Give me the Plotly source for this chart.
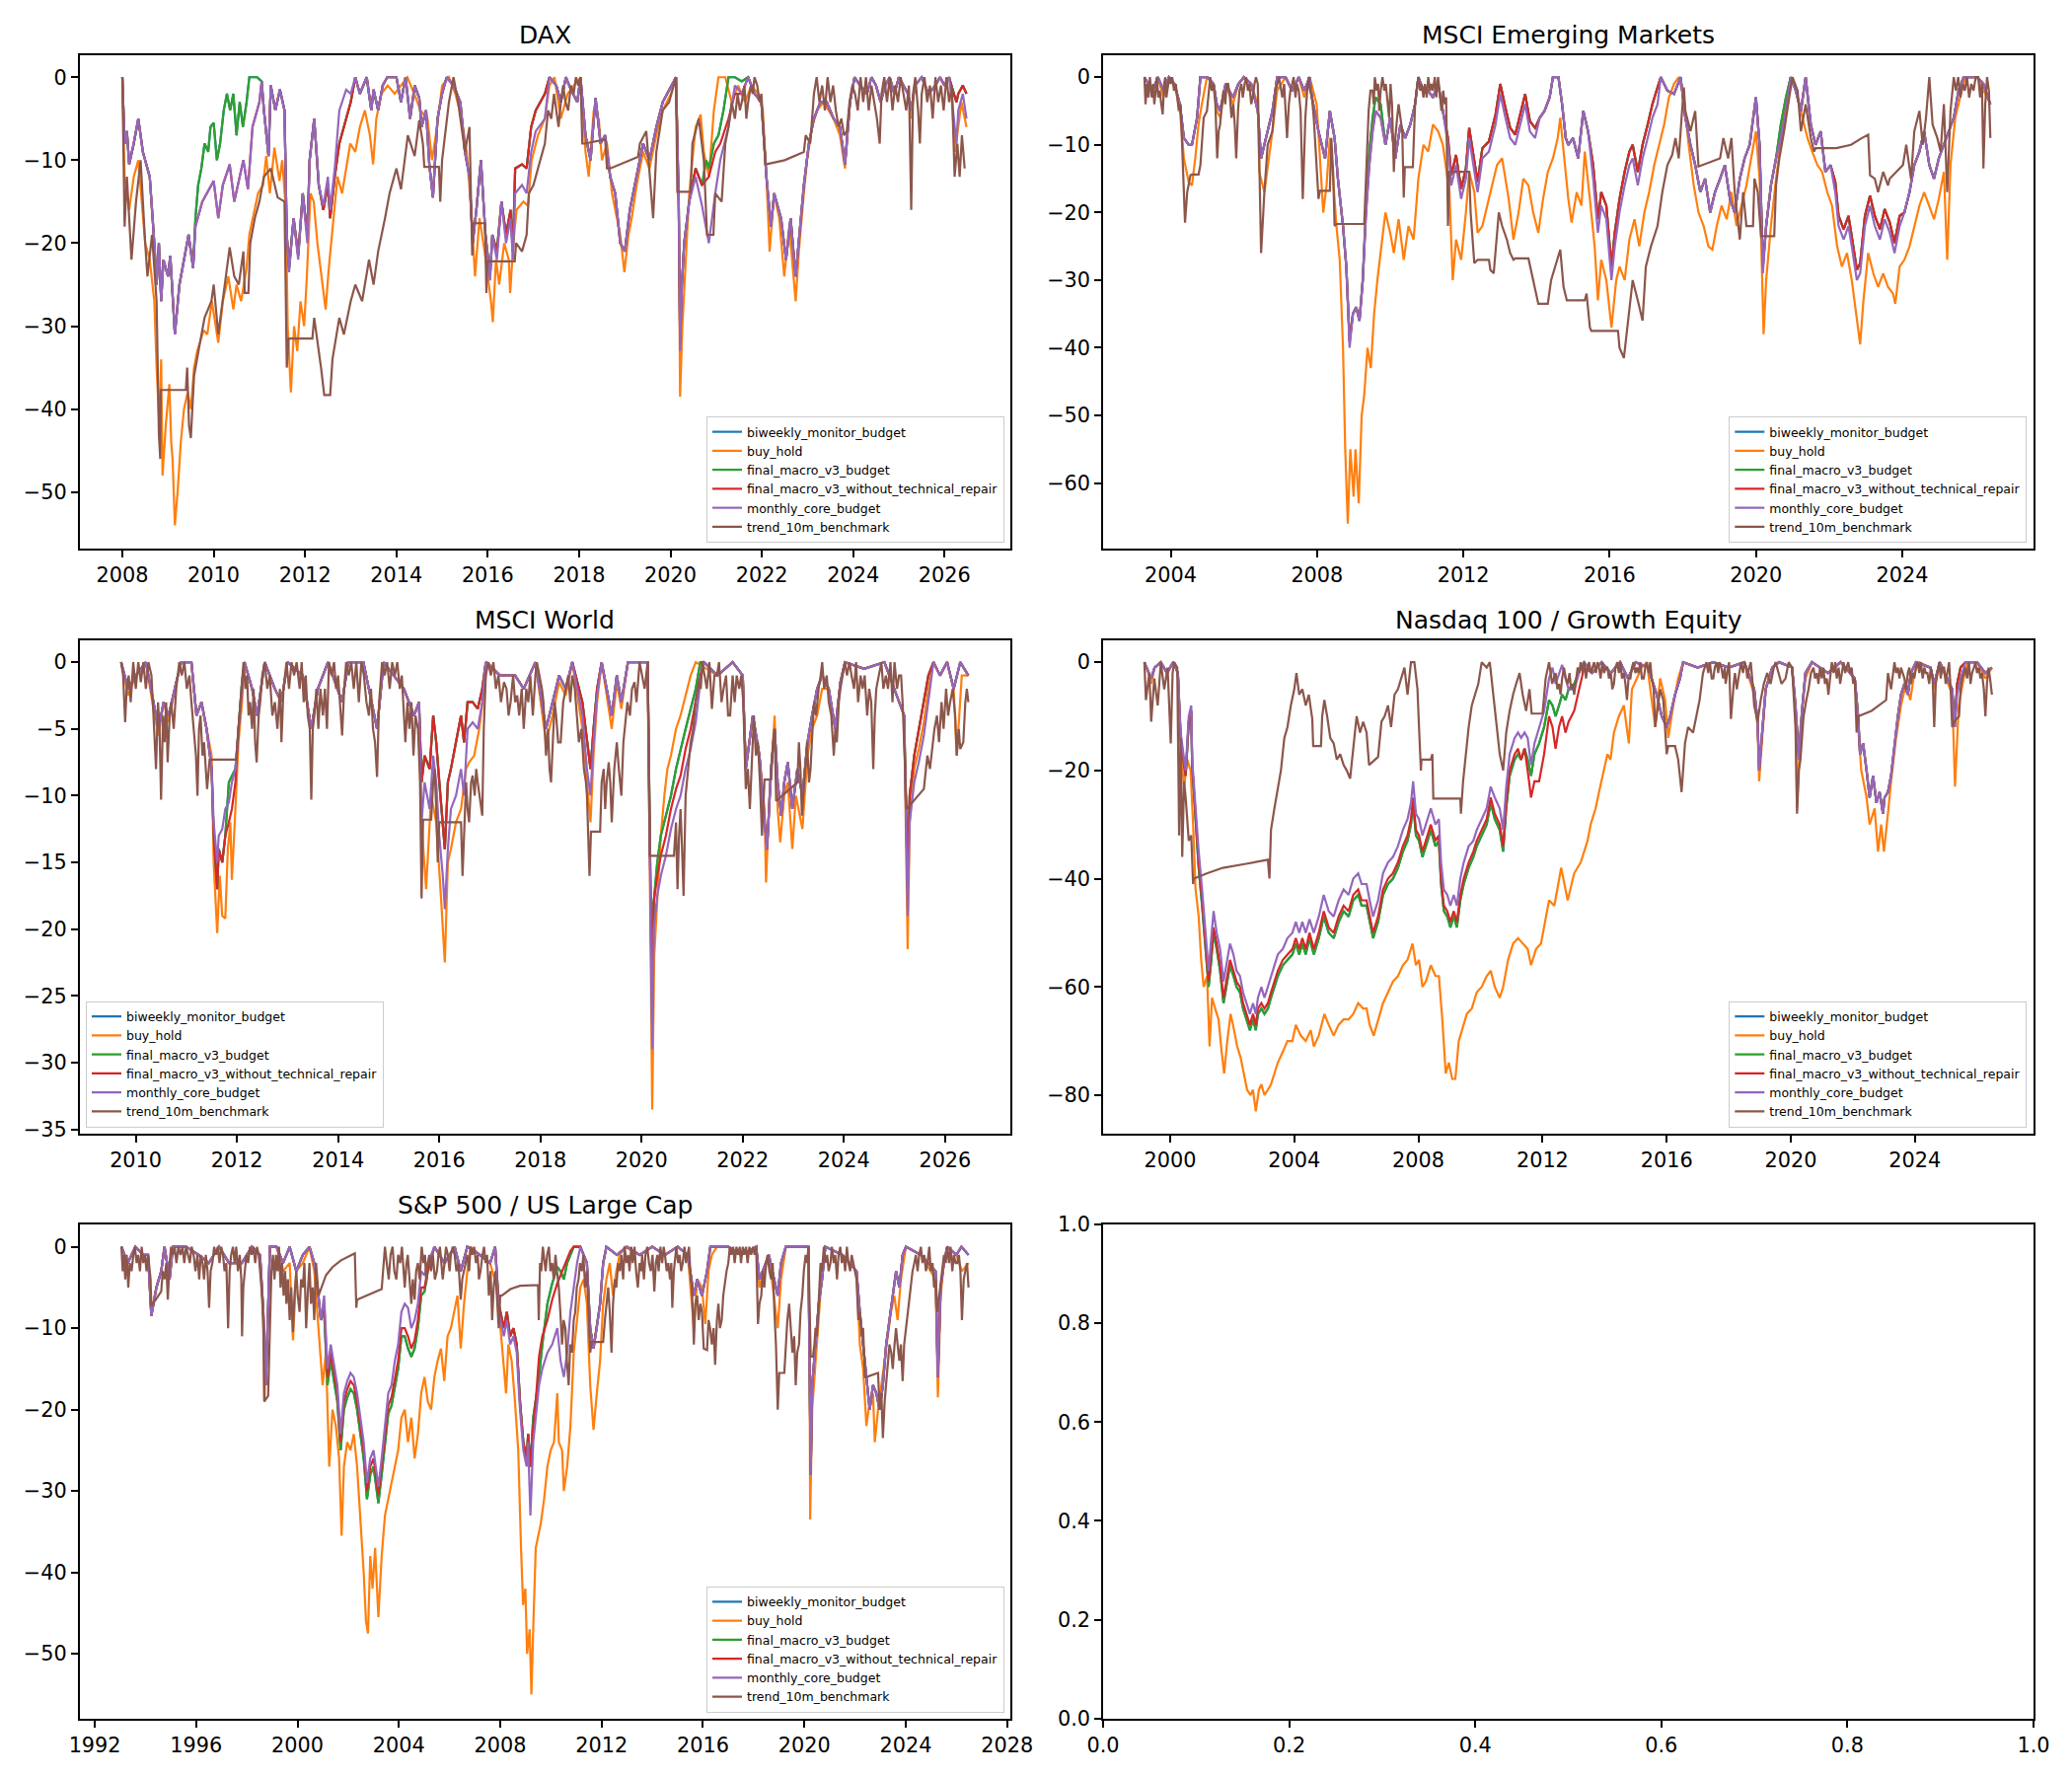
import plotly.graph_objects as go

# ---------------- series names / colours ----------------
SERIES = ["biweekly_monitor_budget", "buy_hold", "final_macro_v3_budget",
          "final_macro_v3_without_technical_repair", "monthly_core_budget", "trend_10m_benchmark"]
COLORS = ["#1f77b4", "#ff7f0e", "#2ca02c", "#d62728", "#9467bd", "#8c564b"]

# ======================= DAX =======================
DAX_TREND = [(2008.00,0),(2008.05,-18),(2008.10,-12),(2008.20,-22),(2008.30,-15),(2008.40,-10),(2008.50,-20),(2008.55,-24),(2008.65,-19),(2008.75,-27),(2008.80,-43),(2008.83,-46),(2008.84,-37.7),(2009.39,-37.7),(2009.42,-35),(2009.46,-42),(2009.50,-43.5),(2009.57,-36),(2009.70,-32),(2009.80,-29),(2009.95,-27),(2010.00,-25),(2010.10,-31),(2010.25,-25),(2010.35,-20.5),(2010.45,-24),(2010.55,-25),(2010.65,-21),(2010.68,-26),(2010.76,-26),(2010.80,-20),(2010.90,-17),(2011.00,-15),(2011.10,-12),(2011.25,-11),(2011.40,-14.5),(2011.55,-15),(2011.60,-35),(2011.64,-31.5),(2012.16,-31.5),(2012.20,-29),(2012.35,-35),(2012.42,-38.3),(2012.55,-38.3),(2012.60,-34),(2012.75,-29),(2012.85,-31),(2013.00,-27),(2013.10,-25),(2013.25,-27),(2013.40,-22),(2013.50,-25),(2013.60,-21),(2013.75,-17),(2013.85,-14),(2014.00,-11),(2014.10,-13.5),(2014.25,-7),(2014.40,-9.5),(2014.50,-5.2),(2014.58,-8),(2014.61,-10.8),(2014.93,-10.8),(2014.96,-15),(2015.00,-10),(2015.15,-3),(2015.25,0),(2015.35,-3),(2015.50,-9),(2015.60,-6),(2015.66,-21.5),(2015.68,-17.6),(2015.94,-17.6),(2015.97,-26),(2015.99,-22.2),(2016.59,-22.2),(2016.62,-20),(2016.75,-21),(2016.85,-19),(2016.90,-14),(2017.00,-13),(2017.15,-10),(2017.25,-8),(2017.32,-4),(2017.39,-5),(2017.45,-2),(2017.50,-4),(2017.55,-6),(2017.60,-3),(2017.65,-1),(2017.70,-3),(2017.76,-4),(2017.82,-1),(2017.88,-2),(2017.93,0),(2017.98,-1),(2018.03,0),(2018.07,-8),(2018.12,-8),(2018.57,-7.5),(2018.61,-11),(2018.68,-11),(2019.29,-9.6),(2019.33,-8),(2019.47,-6.5),(2019.55,-12),(2019.62,-17),(2019.69,-9),(2019.83,-4),(2019.97,-3),(2020.12,0),(2020.15,-13.8),(2020.44,-13.8),(2020.48,-8),(2020.62,-5),(2020.73,-10),(2020.80,-19),(2020.94,-19),(2020.98,-14),(2021.12,-15),(2021.20,-8),(2021.27,-6),(2021.34,-3),(2021.41,-5),(2021.47,-2),(2021.52,-4),(2021.56,-3),(2021.62,-1),(2021.66,-5),(2021.70,-3),(2021.76,-1),(2021.80,-2),(2021.84,0),(2021.90,-1),(2021.95,-3),(2021.99,-2),(2022.08,-10.5),(2022.50,-10),(2022.92,-9),(2022.96,-7),(2023.06,-8),(2023.14,-2),(2023.20,0),(2023.26,-3),(2023.32,-1),(2023.38,-4),(2023.44,0),(2023.50,-3),(2023.56,-1),(2023.62,-4),(2023.68,-6),(2023.74,-5),(2023.80,-7),(2023.86,-6.5),(2023.92,-3),(2023.98,-1),(2024.04,-2),(2024.10,-4),(2024.16,0),(2024.22,-3),(2024.28,0),(2024.34,-4),(2024.40,-1),(2024.46,-3),(2024.52,-5),(2024.58,-8),(2024.62,-2),(2024.68,0),(2024.74,-3),(2024.80,0),(2024.86,-4),(2024.92,-1),(2024.98,-3),(2025.04,0),(2025.10,-2),(2025.16,-4),(2025.22,-1),(2025.27,-16),(2025.31,-2),(2025.36,0),(2025.42,-4),(2025.46,-8),(2025.50,-2),(2025.56,0),(2025.62,-3),(2025.68,-1),(2025.74,-5),(2025.80,0),(2025.86,-3),(2025.92,-1),(2025.98,-4),(2026.04,0),(2026.10,-3),(2026.16,-1),(2026.22,-12),(2026.28,-8),(2026.33,-12),(2026.38,-7),(2026.44,-11)]
DAX_CORE = [(2008.00,0),(2008.05,-8),(2008.10,-6.5),(2008.15,-10.5),(2008.25,-8),(2008.35,-5),(2008.45,-9),(2008.50,-10),(2008.60,-12),(2008.70,-20),(2008.75,-25),(2008.80,-20),(2008.85,-27),(2008.90,-22),(2009.00,-24),(2009.05,-21.5),(2009.15,-31),(2009.25,-25),(2009.35,-22),(2009.45,-19),(2009.55,-23),(2009.60,-18),(2009.75,-15),(2009.85,-14),(2010.00,-12.5),(2010.10,-17),(2010.20,-13),(2010.35,-10.5),(2010.45,-15),(2010.55,-12.5),(2010.65,-10),(2010.75,-13.5),(2010.85,-6),(2011.00,-3),(2011.05,-0.5),(2011.10,-4),(2011.20,-9.5),(2011.25,-1),(2011.35,-4),(2011.45,-1.5),(2011.55,-4),(2011.60,-19),(2011.65,-23.5),(2011.75,-17),(2011.85,-22),(2011.95,-14),(2012.05,-20),(2012.10,-10),(2012.20,-5),(2012.25,-9),(2012.30,-13),(2012.40,-15.5),(2012.50,-12),(2012.55,-16),(2012.65,-11),(2012.75,-4),(2012.90,-1.5),(2013.00,-2),(2013.10,0),(2013.20,-2),(2013.35,0),(2013.45,-4),(2013.50,-1.5),(2013.60,-4),(2013.70,-1),(2013.80,0),(2014.00,0),(2014.10,-3),(2014.20,0),(2014.30,-5),(2014.40,-1),(2014.50,-2.5),(2014.55,-6),(2014.65,-4),(2014.72,-10.5),(2014.80,-14.5),(2014.90,-5),(2015.00,-2),(2015.10,0),(2015.25,-1),(2015.40,-3),(2015.50,-9),(2015.60,-12),(2015.67,-20),(2015.75,-16),(2015.85,-10),(2015.95,-19),(2016.05,-24.5),(2016.10,-19),(2016.20,-22),(2016.30,-15),(2016.40,-20),(2016.50,-17),(2016.55,-22),(2016.60,-14),(2016.75,-13),(2016.85,-14),(2016.95,-9),(2017.05,-6.5),(2017.25,-5),(2017.35,0),(2017.50,-1),(2017.60,-3),(2017.71,0),(2017.82,-1.5),(2017.96,-3),(2018.03,0),(2018.14,-7),(2018.25,-10),(2018.36,-2.5),(2018.47,-8),(2018.57,-7),(2018.68,-12),(2018.79,-14),(2018.90,-20),(2019.00,-21),(2019.11,-16),(2019.26,-12),(2019.40,-8),(2019.54,-10),(2019.69,-6),(2019.83,-3),(2019.97,-1.5),(2020.12,0),(2020.18,-15),(2020.21,-33),(2020.25,-25),(2020.30,-20),(2020.41,-15),(2020.55,-12),(2020.69,-15.5),(2020.84,-20),(2020.98,-14),(2021.09,-10),(2021.27,-6),(2021.41,-1),(2021.56,-2),(2021.70,0),(2021.84,-2),(2021.99,-3),(2022.10,-12),(2022.20,-18),(2022.27,-14),(2022.42,-17),(2022.53,-22),(2022.63,-17),(2022.74,-24),(2022.81,-20),(2022.92,-13),(2023.03,-8),(2023.14,-5),(2023.28,-3),(2023.42,-3),(2023.57,-5),(2023.71,-6),(2023.82,-10.5),(2023.93,-3),(2024.03,0),(2024.15,-1),(2024.30,-2),(2024.40,0),(2024.50,-1),(2024.60,-3),(2024.70,-1),(2024.80,0),(2024.90,-2),(2025.00,0),(2025.10,-1),(2025.20,-2),(2025.27,-4),(2025.35,-1),(2025.50,0),(2025.65,-2),(2025.80,-1),(2025.90,0),(2026.00,-1),(2026.10,0),(2026.15,-2),(2026.26,-8),(2026.30,-4),(2026.40,-2),(2026.48,-5)]
DAX_MACRO_NO_TECH = [(2008.00,0),(2008.05,-8),(2008.10,-6.5),(2008.15,-10.5),(2008.25,-8),(2008.35,-5),(2008.45,-9),(2008.50,-10),(2008.60,-12),(2008.70,-20),(2008.75,-25),(2008.80,-20),(2008.85,-27),(2008.90,-22),(2009.00,-24),(2009.05,-21.5),(2009.15,-31),(2009.25,-25),(2009.35,-22),(2009.45,-19),(2009.55,-23),(2009.60,-18),(2009.75,-15),(2009.85,-14),(2010.00,-12.5),(2010.10,-17),(2010.20,-13),(2010.35,-10.5),(2010.45,-15),(2010.55,-12.5),(2010.65,-10),(2010.75,-13.5),(2010.85,-6),(2011.00,-3),(2011.05,-0.5),(2011.10,-4),(2011.20,-9.5),(2011.25,-1),(2011.35,-4),(2011.45,-1.5),(2011.55,-4),(2011.60,-19),(2011.65,-23),(2011.75,-17),(2011.85,-21.5),(2011.95,-14),(2012.05,-19),(2012.10,-10),(2012.20,-5),(2012.25,-9),(2012.30,-13),(2012.40,-16),(2012.50,-13),(2012.55,-17),(2012.65,-12),(2012.75,-8),(2012.90,-5),(2013.00,-3),(2013.10,0),(2013.20,-2),(2013.35,0),(2013.45,-4),(2013.50,-1.5),(2013.60,-4),(2013.70,-1),(2013.80,0),(2014.00,0),(2014.10,-3),(2014.20,0),(2014.30,-5),(2014.40,-1),(2014.50,-2.5),(2014.55,-6),(2014.65,-4),(2014.72,-10.5),(2014.80,-14.5),(2014.90,-5),(2015.00,-2),(2015.10,0),(2015.25,-1),(2015.40,-3),(2015.50,-9),(2015.60,-12),(2015.67,-20),(2015.75,-16),(2015.85,-10),(2015.95,-19),(2016.05,-24),(2016.10,-19),(2016.20,-21),(2016.30,-15),(2016.40,-19),(2016.50,-16),(2016.55,-21),(2016.60,-11),(2016.75,-10.5),(2016.85,-11),(2016.95,-6),(2017.05,-4),(2017.25,-2),(2017.35,0),(2017.50,-1),(2017.60,-3),(2017.71,0),(2017.82,-1.5),(2017.96,-3),(2018.03,0),(2018.14,-7),(2018.25,-10),(2018.36,-2.5),(2018.47,-8),(2018.57,-7),(2018.68,-12),(2018.79,-14),(2018.90,-20),(2019.00,-21),(2019.11,-16),(2019.26,-12),(2019.40,-8),(2019.54,-10),(2019.69,-6),(2019.83,-3),(2019.97,-1.5),(2020.12,0),(2020.18,-15),(2020.21,-32),(2020.25,-25),(2020.30,-20),(2020.41,-15),(2020.55,-11),(2020.69,-13),(2020.84,-12),(2020.98,-9),(2021.09,-8),(2021.27,-5),(2021.41,-2),(2021.56,-2),(2021.70,0),(2021.84,-2),(2021.99,-3),(2022.10,-12),(2022.20,-18),(2022.27,-14),(2022.42,-17),(2022.53,-22),(2022.63,-17),(2022.74,-24),(2022.81,-20),(2022.92,-13),(2023.03,-8),(2023.14,-5),(2023.28,-3),(2023.42,-3),(2023.57,-5),(2023.71,-6),(2023.82,-10.5),(2023.93,-3),(2024.03,0),(2024.15,-1),(2024.30,-2),(2024.40,0),(2024.50,-1),(2024.60,-3),(2024.70,-1),(2024.80,0),(2024.90,-2),(2025.00,0),(2025.10,-1),(2025.20,-2),(2025.27,-4),(2025.35,-1),(2025.50,0),(2025.65,-2),(2025.80,-1),(2025.90,0),(2026.00,-1),(2026.10,0),(2026.15,-1),(2026.26,-3),(2026.30,-2),(2026.40,-1),(2026.48,-2)]
DAX_MACRO = [(2008.00,0),(2008.05,-8),(2008.10,-6.5),(2008.15,-10.5),(2008.25,-8),(2008.35,-5),(2008.45,-9),(2008.50,-10),(2008.60,-12),(2008.70,-20),(2008.75,-25),(2008.80,-20),(2008.85,-27),(2008.90,-22),(2009.00,-24),(2009.05,-21.5),(2009.15,-31),(2009.25,-25),(2009.35,-22),(2009.45,-19),(2009.55,-23),(2009.60,-17),(2009.66,-13),(2009.73,-11),(2009.80,-8),(2009.88,-9),(2009.93,-6),(2010.00,-5.5),(2010.07,-10),(2010.14,-8),(2010.22,-4),(2010.29,-2),(2010.36,-4),(2010.43,-2),(2010.50,-7),(2010.57,-3),(2010.64,-6),(2010.72,-3),(2010.78,0),(2010.95,0),(2011.05,-0.5),(2011.10,-4),(2011.20,-9.5),(2011.25,-1),(2011.35,-4),(2011.45,-1.5),(2011.55,-4),(2011.60,-19),(2011.65,-23),(2011.75,-17),(2011.85,-21.5),(2011.95,-14),(2012.05,-19),(2012.10,-10),(2012.20,-5),(2012.25,-9),(2012.30,-13),(2012.40,-16),(2012.50,-13),(2012.55,-17),(2012.65,-12),(2012.75,-8),(2012.90,-5),(2013.00,-3),(2013.10,0),(2013.20,-2),(2013.35,0),(2013.45,-4),(2013.50,-1.5),(2013.60,-4),(2013.70,-1),(2013.80,0),(2014.00,0),(2014.10,-3),(2014.20,0),(2014.30,-5),(2014.40,-1),(2014.50,-2.5),(2014.55,-6),(2014.65,-4),(2014.72,-10.5),(2014.80,-14.5),(2014.90,-5),(2015.00,-2),(2015.10,0),(2015.25,-1),(2015.40,-3),(2015.50,-9),(2015.60,-12),(2015.67,-20),(2015.75,-16),(2015.85,-10),(2015.95,-19),(2016.05,-24),(2016.10,-19),(2016.20,-21),(2016.30,-15),(2016.40,-19),(2016.50,-16),(2016.55,-21),(2016.60,-11),(2016.75,-10.5),(2016.85,-11),(2016.95,-6),(2017.05,-4),(2017.25,-2),(2017.35,0),(2017.50,-1),(2017.60,-3),(2017.71,0),(2017.82,-1.5),(2017.96,-3),(2018.03,0),(2018.14,-7),(2018.25,-10),(2018.36,-2.5),(2018.47,-8),(2018.57,-7),(2018.68,-12),(2018.79,-14),(2018.90,-20),(2019.00,-21),(2019.11,-16),(2019.26,-12),(2019.40,-8),(2019.54,-10),(2019.69,-6),(2019.83,-3),(2019.97,-1.5),(2020.12,0),(2020.18,-15),(2020.21,-32),(2020.25,-25),(2020.30,-20),(2020.41,-15),(2020.55,-11),(2020.69,-13),(2020.78,-10),(2020.84,-11),(2020.95,-8),(2021.05,-7),(2021.16,-4),(2021.27,0),(2021.41,0),(2021.56,-0.5),(2021.70,0),(2021.84,-2),(2021.99,-3),(2022.10,-12),(2022.20,-18),(2022.27,-14),(2022.42,-17),(2022.53,-22),(2022.63,-17),(2022.74,-24),(2022.81,-20),(2022.92,-13),(2023.03,-8),(2023.14,-5),(2023.28,-3),(2023.42,-3),(2023.57,-5),(2023.71,-6),(2023.82,-10.5),(2023.93,-3),(2024.03,0),(2024.15,-1),(2024.30,-2),(2024.40,0),(2024.50,-1),(2024.60,-3),(2024.70,-1),(2024.80,0),(2024.90,-2),(2025.00,0),(2025.10,-1),(2025.20,-2),(2025.27,-4),(2025.35,-1),(2025.50,0),(2025.65,-2),(2025.80,-1),(2025.90,0),(2026.00,-1),(2026.10,0),(2026.15,-1),(2026.26,-3),(2026.30,-2),(2026.40,-1),(2026.48,-2)]
DAX_BUY_HOLD = [(2008.00,0),(2008.05,-12),(2008.15,-16),(2008.25,-12),(2008.35,-10),(2008.45,-17),(2008.50,-20),(2008.60,-22),(2008.70,-27),(2008.75,-35),(2008.81,-42),(2008.85,-34),(2008.88,-48),(2008.95,-42),(2009.03,-37),(2009.07,-44),(2009.10,-46),(2009.15,-54),(2009.21,-50),(2009.28,-44),(2009.35,-40),(2009.43,-38),(2009.50,-40),(2009.57,-35),(2009.64,-33),(2009.78,-30.5),(2009.86,-31),(2009.96,-27),(2010.10,-32),(2010.20,-27),(2010.32,-24),(2010.43,-28),(2010.50,-25),(2010.60,-27),(2010.72,-23),(2010.78,-19),(2010.90,-16),(2010.97,-14),(2011.08,-13),(2011.15,-9.5),(2011.23,-14),(2011.33,-8.5),(2011.44,-12.5),(2011.50,-10),(2011.58,-16),(2011.62,-30),(2011.69,-38),(2011.76,-30),(2011.83,-33),(2011.90,-27),(2011.98,-30),(2012.04,-24),(2012.12,-14),(2012.19,-15),(2012.27,-20),(2012.34,-23),(2012.45,-28),(2012.52,-23),(2012.63,-17),(2012.71,-12),(2012.81,-14),(2012.92,-10),(2012.99,-8),(2013.10,-9),(2013.20,-6),(2013.31,-4),(2013.42,-7),(2013.49,-10.5),(2013.56,-5),(2013.67,-2),(2013.81,-1),(2013.96,-2),(2014.10,-1),(2014.24,0),(2014.39,-2),(2014.53,-4),(2014.68,-5),(2014.78,-10),(2014.89,-6),(2015.00,-1),(2015.15,0),(2015.29,-2),(2015.43,-5),(2015.54,-9),(2015.65,-17),(2015.72,-24),(2015.82,-17),(2015.93,-21),(2016.07,-27),(2016.11,-29.5),(2016.18,-22),(2016.25,-25),(2016.36,-20),(2016.46,-22),(2016.49,-26),(2016.56,-20),(2016.63,-16),(2016.78,-15),(2016.88,-15.5),(2016.96,-10),(2017.10,-7),(2017.25,-5),(2017.35,-1),(2017.46,0),(2017.60,-5),(2017.75,-2),(2017.89,-1),(2018.03,0),(2018.14,-9),(2018.21,-12),(2018.32,-4),(2018.43,-5),(2018.50,-10),(2018.61,-8),(2018.72,-14),(2018.83,-17),(2018.90,-19),(2018.99,-23.5),(2019.08,-19),(2019.15,-17),(2019.26,-13),(2019.40,-9),(2019.54,-11),(2019.69,-7),(2019.83,-4),(2020.01,-2),(2020.12,0),(2020.18,-16),(2020.21,-38.5),(2020.26,-30),(2020.33,-22),(2020.41,-14),(2020.48,-10),(2020.55,-6),(2020.66,-4.5),(2020.73,-9),(2020.84,-12),(2020.95,-4),(2021.05,0),(2021.20,0),(2021.34,-3),(2021.48,-1),(2021.63,-3),(2021.77,-1),(2021.92,-2),(2022.02,-4),(2022.10,-12),(2022.17,-21),(2022.27,-14),(2022.38,-17),(2022.49,-24),(2022.60,-18),(2022.74,-27),(2022.81,-21),(2022.92,-14),(2022.99,-10),(2023.10,-6),(2023.21,-4),(2023.35,-3),(2023.57,-5),(2023.71,-7),(2023.82,-11),(2023.93,-3),(2024.03,0),(2024.15,-1),(2024.30,-2),(2024.40,0),(2024.50,-1),(2024.60,-3),(2024.70,-1),(2024.80,0),(2024.90,-2),(2025.00,0),(2025.10,-1),(2025.20,-2),(2025.27,-5),(2025.35,-1),(2025.50,0),(2025.65,-2),(2025.80,-1),(2025.90,0),(2026.00,-1),(2026.10,0),(2026.15,-2),(2026.23,-9),(2026.37,-3),(2026.48,-6)]

# ======================= MSCI EM =======================
EM_TREND = [(2003.28,0),(2003.31,-4),(2003.35,-1),(2003.39,-3),(2003.43,0),(2003.48,-3),(2003.52,-1),(2003.55,-4),(2003.59,-2),(2003.62,0),(2003.66,-3),(2003.70,-2),(2003.74,-4),(2003.78,-5.5),(2003.82,-1),(2003.85,0),(2003.88,-3),(2003.91,-2),(2003.96,0),(2004.00,-1),(2004.04,0),(2004.09,-2),(2004.14,-1),(2004.18,-3),(2004.22,-5),(2004.27,-4),(2004.31,-10),(2004.39,-21.5),(2004.45,-17),(2004.54,-14.5),(2004.58,-14.4),(2004.76,-14.4),(2004.81,-13),(2004.90,-6),(2004.99,-5),(2005.04,-2),(2005.08,0),(2005.12,-2),(2005.17,-1),(2005.22,-4),(2005.27,-12),(2005.31,-8),(2005.35,-7),(2005.40,-4),(2005.44,-2),(2005.49,-4),(2005.53,-1),(2005.57,-1),(2005.62,-3),(2005.66,-6),(2005.71,-4),(2005.75,-7),(2005.79,-12),(2005.84,-5),(2005.88,-2),(2005.93,-1),(2005.97,-3),(2006.02,-1),(2006.06,0),(2006.11,-2),(2006.15,-1),(2006.20,-4),(2006.24,-3),(2006.29,-1),(2006.33,0),(2006.38,-1),(2006.42,-13),(2006.47,-26),(2006.56,-17),(2006.65,-10),(2006.78,-8),(2006.87,-2),(2006.96,0),(2007.01,-2),(2007.05,-3),(2007.10,-1),(2007.14,-5),(2007.18,-9),(2007.23,-4),(2007.27,-2),(2007.32,-1),(2007.36,0),(2007.41,-3),(2007.45,-1),(2007.50,-2),(2007.55,-5),(2007.61,-18),(2007.65,-9),(2007.68,-6),(2007.73,-2),(2007.77,0),(2007.81,-2),(2007.86,-3),(2007.91,-6),(2007.95,-10),(2008.04,-18),(2008.08,-16.8),(2008.35,-16.8),(2008.39,-9),(2008.44,-14),(2008.48,-22),(2008.53,-21.7),(2009.29,-21.7),(2009.34,-14),(2009.41,-5),(2009.46,-2),(2009.52,-2),(2009.55,-4),(2009.58,0),(2009.63,-2),(2009.67,-1),(2009.70,-5),(2009.74,-2),(2009.79,0),(2009.84,-2),(2009.88,-1),(2009.92,-3),(2009.97,-6),(2010.01,-1),(2010.05,-4),(2010.10,-14),(2010.14,-9),(2010.19,-6),(2010.23,-4),(2010.28,-6),(2010.33,-8),(2010.37,-17.8),(2010.40,-13.3),(2010.62,-13.3),(2010.68,-4),(2010.72,-2),(2010.77,0),(2010.82,-2),(2010.86,-1),(2010.91,-3),(2010.95,-1),(2011.00,-3),(2011.04,0),(2011.09,-2),(2011.13,-1),(2011.17,-2),(2011.22,0),(2011.26,-3),(2011.31,0),(2011.35,-2),(2011.40,-5),(2011.45,-2),(2011.49,-4),(2011.53,-3),(2011.58,-22),(2011.62,-14),(2012.16,-14),(2012.20,-20),(2012.30,-27.5),(2012.39,-27),(2012.70,-27),(2012.74,-28.5),(2012.83,-29),(2012.97,-20),(2013.06,-22),(2013.19,-24),(2013.28,-26),(2013.37,-27),(2013.42,-26.8),(2013.78,-26.8),(2013.87,-29),(2013.96,-31),(2014.05,-33.5),(2014.31,-33.5),(2014.40,-30),(2014.51,-28),(2014.65,-25.5),(2014.74,-31),(2014.83,-33),(2015.32,-33),(2015.37,-32),(2015.46,-37),(2015.50,-37.5),(2016.23,-37.5),(2016.27,-40),(2016.39,-41.5),(2016.50,-36),(2016.63,-30),(2016.77,-33),(2016.90,-36),(2016.99,-28),(2017.13,-25),(2017.31,-22),(2017.44,-17),(2017.58,-13),(2017.71,-11.5),(2017.80,-9),(2017.89,-12),(2017.98,-5),(2018.03,-1.5),(2018.07,-5),(2018.21,-8),(2018.34,-5),(2018.40,-12),(2018.43,-13.2),(2019.02,-12),(2019.11,-9),(2019.24,-12),(2019.33,-9),(2019.42,-17),(2019.56,-24),(2019.65,-17),(2019.74,-22),(2019.92,-22),(2019.96,-15),(2020.05,-17),(2020.14,-23.5),(2020.50,-23.5),(2020.55,-16),(2020.64,-12),(2020.77,-8),(2020.91,-3),(2021.00,0),(2021.14,-2),(2021.23,-8),(2021.36,-4),(2021.50,-9),(2021.59,-11),(2021.63,-10.5),(2022.20,-10.5),(2022.60,-10),(2022.90,-9),(2023.07,-8.5),(2023.12,-14.5),(2023.25,-15),(2023.34,-17),(2023.48,-14),(2023.61,-16),(2023.66,-15),(2024.02,-13),(2024.11,-10),(2024.24,-15),(2024.33,-8),(2024.47,-5),(2024.56,-10),(2024.65,-6),(2024.74,0),(2024.83,-7),(2024.96,-9),(2025.05,-11),(2025.14,-4),(2025.23,-17),(2025.32,-5),(2025.41,0),(2025.47,-2),(2025.53,0),(2025.59,-3),(2025.65,-1),(2025.71,-2),(2025.77,0),(2025.83,-3),(2025.89,-1),(2025.95,-2),(2026.01,0),(2026.08,0),(2026.13,-3),(2026.18,-1),(2026.22,-13.5),(2026.27,-4),(2026.32,0),(2026.37,-2),(2026.41,-9)]
EM_CORE = [(2003.28,0),(2003.50,-2),(2003.65,0),(2003.80,-2),(2003.95,0),(2004.10,-1),(2004.25,-4),(2004.36,-9),(2004.49,-10),(2004.58,-10),(2004.72,-6),(2004.81,0),(2005.00,0),(2005.17,-1),(2005.26,-4),(2005.35,-5),(2005.50,-1),(2005.70,-3),(2005.85,-1),(2006.00,0),(2006.20,-1),(2006.38,-5),(2006.47,-12),(2006.60,-9),(2006.78,-5),(2006.91,0),(2007.14,0),(2007.32,-2),(2007.50,0),(2007.65,-2),(2007.80,0),(2007.86,-3),(2008.04,-8),(2008.22,-12),(2008.35,-5),(2008.48,-9),(2008.57,-15),(2008.71,-22),(2008.80,-28),(2008.89,-40),(2008.98,-35),(2009.07,-34),(2009.16,-36),(2009.25,-30),(2009.34,-20),(2009.43,-13),(2009.52,-8),(2009.60,-5),(2009.74,-6),(2009.87,-10),(2010.00,-6),(2010.14,-12),(2010.28,-7),(2010.41,-9),(2010.55,-7),(2010.68,-4),(2010.77,0),(2010.91,-2),(2011.04,-2),(2011.17,-3),(2011.31,-1),(2011.44,-5),(2011.58,-10),(2011.67,-16),(2011.80,-13),(2011.94,-18),(2012.07,-15),(2012.16,-9),(2012.30,-14),(2012.39,-17),(2012.52,-12),(2012.70,-11),(2012.88,-7),(2013.01,-2.5),(2013.15,-6),(2013.28,-9),(2013.42,-10),(2013.55,-7),(2013.69,-4),(2013.82,-8),(2013.96,-9),(2014.09,-6),(2014.22,-5),(2014.36,-3),(2014.45,0),(2014.60,0),(2014.70,-4),(2014.80,-9),(2014.87,-10),(2015.00,-9),(2015.14,-12),(2015.28,-5),(2015.41,-8),(2015.55,-15),(2015.68,-23),(2015.77,-19),(2015.91,-21),(2016.05,-30),(2016.14,-25),(2016.27,-20),(2016.41,-16),(2016.54,-13),(2016.63,-12),(2016.77,-16),(2016.90,-12),(2017.04,-9),(2017.17,-6),(2017.31,-4),(2017.40,0),(2017.58,-2),(2017.76,-2.5),(2017.94,0),(2018.07,-6),(2018.21,-10),(2018.34,-13),(2018.48,-17),(2018.61,-15),(2018.75,-20),(2018.88,-17),(2019.02,-15),(2019.15,-13),(2019.29,-18),(2019.42,-20),(2019.56,-15),(2019.69,-12),(2019.83,-10),(2019.92,-6),(2020.00,-3),(2020.10,-10),(2020.19,-29),(2020.28,-22),(2020.41,-16),(2020.55,-12),(2020.68,-9),(2020.82,-5),(2020.95,0),(2021.09,-2),(2021.23,-5),(2021.36,0),(2021.50,-7),(2021.63,-10),(2021.77,-8),(2021.90,-14),(2022.04,-13),(2022.17,-17),(2022.26,-22),(2022.40,-24),(2022.53,-22),(2022.62,-25),(2022.76,-30),(2022.85,-29),(2022.98,-22),(2023.12,-19),(2023.25,-22),(2023.39,-24),(2023.52,-21),(2023.66,-23),(2023.79,-26),(2023.93,-22),(2024.06,-20),(2024.20,-17),(2024.33,-13),(2024.47,-11),(2024.60,-8),(2024.74,-13),(2024.87,-15),(2025.00,-12),(2025.14,-10),(2025.27,-8),(2025.41,-6),(2025.54,-2),(2025.68,0),(2025.86,0),(2026.05,0),(2026.22,-1),(2026.41,-4)]
EM_MACRO_NO_TECH = [(2003.28,0),(2003.50,-2),(2003.65,0),(2003.80,-2),(2003.95,0),(2004.10,-1),(2004.25,-4),(2004.36,-9),(2004.49,-10),(2004.58,-10),(2004.72,-6),(2004.81,0),(2005.00,0),(2005.17,-1),(2005.26,-4),(2005.35,-5),(2005.50,-1),(2005.70,-3),(2005.85,-1),(2006.00,0),(2006.20,-1),(2006.38,-5),(2006.47,-12),(2006.60,-9),(2006.78,-5),(2006.91,0),(2007.14,0),(2007.32,-2),(2007.50,0),(2007.65,-2),(2007.80,0),(2007.86,-3),(2008.04,-8),(2008.22,-12),(2008.35,-5),(2008.48,-9),(2008.57,-15),(2008.71,-22),(2008.80,-28),(2008.89,-39),(2008.98,-35),(2009.07,-34),(2009.16,-36),(2009.25,-30),(2009.34,-20),(2009.43,-13),(2009.52,-8),(2009.60,-5),(2009.74,-6),(2009.87,-10),(2010.00,-6),(2010.14,-12),(2010.28,-7),(2010.41,-9),(2010.55,-7),(2010.68,-4),(2010.77,0),(2010.91,-2),(2011.04,-2),(2011.17,-3),(2011.31,-1),(2011.44,-5),(2011.58,-9),(2011.67,-14.5),(2011.80,-11.5),(2011.94,-16.5),(2012.07,-13.5),(2012.16,-7.5),(2012.30,-12.5),(2012.39,-15.5),(2012.52,-10.5),(2012.70,-9.5),(2012.88,-5.5),(2013.01,-1),(2013.15,-4.5),(2013.28,-7.5),(2013.42,-8.5),(2013.55,-5.5),(2013.69,-2.5),(2013.82,-6.5),(2013.96,-7.5),(2014.09,-6),(2014.22,-5),(2014.36,-3),(2014.45,0),(2014.60,0),(2014.70,-4),(2014.80,-9),(2014.87,-10),(2015.00,-9),(2015.14,-12),(2015.28,-5),(2015.41,-8),(2015.55,-13),(2015.68,-21),(2015.77,-17),(2015.91,-19),(2016.05,-28),(2016.14,-23),(2016.27,-18),(2016.41,-14),(2016.54,-11),(2016.63,-10),(2016.77,-14),(2016.90,-10),(2017.04,-7),(2017.17,-4),(2017.31,-1.5),(2017.40,0),(2017.58,-2),(2017.76,-2.5),(2017.94,0),(2018.07,-6),(2018.21,-10),(2018.34,-13),(2018.48,-17),(2018.61,-15),(2018.75,-20),(2018.88,-17),(2019.02,-15),(2019.15,-13),(2019.29,-18),(2019.42,-20),(2019.56,-15),(2019.69,-12),(2019.83,-10),(2019.92,-6),(2020.00,-3),(2020.10,-10),(2020.19,-28),(2020.28,-22),(2020.41,-16),(2020.55,-12),(2020.68,-9),(2020.82,-5),(2020.95,0),(2021.09,-2),(2021.23,-5),(2021.36,0),(2021.50,-7),(2021.63,-10),(2021.77,-8),(2021.90,-14),(2022.04,-13),(2022.17,-15.5),(2022.26,-20.5),(2022.40,-22.5),(2022.53,-20.5),(2022.62,-23.5),(2022.76,-28.5),(2022.85,-27.5),(2022.98,-20.5),(2023.12,-17.5),(2023.25,-20.5),(2023.39,-22.5),(2023.52,-19.5),(2023.66,-21.5),(2023.79,-24.5),(2023.93,-20.5),(2024.06,-20),(2024.20,-17),(2024.33,-13),(2024.47,-11),(2024.60,-8),(2024.74,-13),(2024.87,-15),(2025.00,-12),(2025.14,-10),(2025.27,-8),(2025.41,-6),(2025.54,-2),(2025.68,0),(2025.86,0),(2026.05,0),(2026.22,-1),(2026.41,-4)]
EM_MACRO = [(2003.28,0),(2003.50,-2),(2003.65,0),(2003.80,-2),(2003.95,0),(2004.10,-1),(2004.25,-4),(2004.36,-9),(2004.49,-10),(2004.58,-10),(2004.72,-6),(2004.81,0),(2005.00,0),(2005.17,-1),(2005.26,-4),(2005.35,-5),(2005.50,-1),(2005.70,-3),(2005.85,-1),(2006.00,0),(2006.20,-1),(2006.38,-5),(2006.47,-12),(2006.60,-9),(2006.78,-5),(2006.91,0),(2007.14,0),(2007.32,-2),(2007.50,0),(2007.65,-2),(2007.80,0),(2007.86,-3),(2008.04,-8),(2008.22,-12),(2008.35,-5),(2008.48,-9),(2008.57,-15),(2008.71,-22),(2008.80,-28),(2008.89,-39),(2008.98,-35),(2009.07,-34),(2009.16,-36),(2009.25,-30),(2009.34,-19),(2009.43,-11),(2009.52,-6),(2009.60,-3),(2009.74,-4),(2009.87,-10),(2010.00,-6),(2010.14,-12),(2010.28,-7),(2010.41,-9),(2010.55,-7),(2010.68,-4),(2010.77,0),(2010.91,-2),(2011.04,-2),(2011.17,-3),(2011.31,-1),(2011.44,-5),(2011.58,-9),(2011.67,-14.5),(2011.80,-11.5),(2011.94,-16.5),(2012.07,-13.5),(2012.16,-7.5),(2012.30,-12.5),(2012.39,-15.5),(2012.52,-10.5),(2012.70,-9.5),(2012.88,-5.5),(2013.01,-1),(2013.15,-4.5),(2013.28,-7.5),(2013.42,-8.5),(2013.55,-5.5),(2013.69,-2.5),(2013.82,-6.5),(2013.96,-7.5),(2014.09,-6),(2014.22,-5),(2014.36,-3),(2014.45,0),(2014.60,0),(2014.70,-4),(2014.80,-9),(2014.87,-10),(2015.00,-9),(2015.14,-12),(2015.28,-5),(2015.41,-8),(2015.55,-13),(2015.68,-21),(2015.77,-17),(2015.91,-19),(2016.05,-28),(2016.14,-23),(2016.27,-18),(2016.41,-14),(2016.54,-11),(2016.63,-10),(2016.77,-14),(2016.90,-10),(2017.04,-7),(2017.17,-4),(2017.31,-1.5),(2017.40,0),(2017.58,-2),(2017.76,-2.5),(2017.94,0),(2018.07,-6),(2018.21,-10),(2018.34,-13),(2018.48,-17),(2018.61,-15),(2018.75,-20),(2018.88,-17),(2019.02,-15),(2019.15,-13),(2019.29,-18),(2019.42,-20),(2019.56,-15),(2019.69,-12),(2019.83,-10),(2019.92,-6),(2020.00,-3),(2020.10,-10),(2020.19,-28),(2020.28,-22),(2020.41,-16),(2020.55,-12),(2020.68,-7),(2020.82,-3),(2020.95,0),(2021.09,-2),(2021.23,-5),(2021.36,0),(2021.50,-7),(2021.63,-10),(2021.77,-8),(2021.90,-14),(2022.04,-13),(2022.17,-15.5),(2022.26,-20.5),(2022.40,-22.5),(2022.53,-20.5),(2022.62,-23.5),(2022.76,-28.5),(2022.85,-27.5),(2022.98,-20.5),(2023.12,-17.5),(2023.25,-20.5),(2023.39,-22.5),(2023.52,-19.5),(2023.66,-21.5),(2023.79,-24.5),(2023.93,-20.5),(2024.06,-20),(2024.20,-17),(2024.33,-13),(2024.47,-11),(2024.60,-8),(2024.74,-13),(2024.87,-15),(2025.00,-12),(2025.14,-10),(2025.27,-8),(2025.41,-6),(2025.54,-2),(2025.68,0),(2025.86,0),(2026.05,0),(2026.22,-1),(2026.41,-4)]
EM_BUY_HOLD = [(2003.28,0),(2003.50,-2),(2003.65,0),(2003.80,-3),(2003.95,0),(2004.10,-1),(2004.25,-5),(2004.36,-12),(2004.49,-15.5),(2004.58,-16),(2004.67,-12),(2004.76,-7),(2004.85,-4),(2004.99,0),(2005.17,-1),(2005.26,-5),(2005.35,-6),(2005.50,-1),(2005.70,-4),(2005.85,-1),(2006.00,0),(2006.20,-1),(2006.38,-4),(2006.42,-14),(2006.56,-17),(2006.69,-12),(2006.78,-8),(2006.91,-2),(2007.14,0),(2007.32,-2),(2007.50,0),(2007.65,-3),(2007.80,0),(2007.99,-4),(2008.08,-13),(2008.17,-20),(2008.26,-16),(2008.35,-9),(2008.44,-15),(2008.53,-22),(2008.62,-27),(2008.71,-40),(2008.77,-55),(2008.84,-66),(2008.91,-55),(2009.00,-62),(2009.05,-55),(2009.14,-63),(2009.22,-50),(2009.29,-47),(2009.38,-40),(2009.47,-43),(2009.56,-35),(2009.65,-30),(2009.78,-24),(2009.87,-20),(2010.00,-23),(2010.10,-26),(2010.23,-21),(2010.37,-27),(2010.50,-22),(2010.64,-24),(2010.77,-15),(2010.91,-10),(2011.04,-11),(2011.17,-7),(2011.31,-8),(2011.44,-10),(2011.62,-17),(2011.71,-30),(2011.80,-24),(2011.94,-27),(2012.07,-20),(2012.16,-14),(2012.30,-17),(2012.39,-23),(2012.52,-22),(2012.65,-19),(2012.79,-16),(2012.92,-13),(2013.06,-12),(2013.24,-18),(2013.37,-24),(2013.51,-20),(2013.64,-15),(2013.78,-16),(2013.91,-20),(2014.05,-23),(2014.18,-18),(2014.31,-14),(2014.45,-12),(2014.58,-9),(2014.65,-6),(2014.74,-11),(2014.87,-18),(2014.96,-21.5),(2015.10,-17),(2015.23,-19),(2015.32,-11),(2015.46,-18),(2015.59,-25),(2015.68,-33),(2015.77,-27),(2015.91,-30),(2016.05,-37),(2016.18,-30),(2016.27,-28),(2016.41,-30),(2016.54,-24),(2016.68,-21),(2016.81,-25),(2016.95,-20),(2017.08,-17),(2017.22,-13),(2017.35,-10),(2017.49,-7),(2017.62,-3),(2017.76,-1),(2017.89,0),(2018.03,-3),(2018.16,-10),(2018.30,-16),(2018.43,-20),(2018.57,-22),(2018.70,-25),(2018.81,-25.5),(2018.93,-22),(2019.06,-19),(2019.20,-21),(2019.33,-17),(2019.47,-22),(2019.60,-19),(2019.74,-16),(2019.87,-12),(2020.00,-8),(2020.10,-15),(2020.21,-38),(2020.28,-30),(2020.41,-22),(2020.55,-15),(2020.68,-10),(2020.82,-4),(2020.95,0),(2021.09,-2),(2021.27,-6),(2021.41,-9),(2021.54,-11),(2021.68,-13),(2021.81,-14),(2021.95,-17),(2022.08,-19),(2022.22,-25),(2022.35,-28),(2022.49,-26),(2022.62,-30),(2022.76,-36),(2022.85,-39.5),(2022.94,-33),(2023.07,-26),(2023.21,-29),(2023.34,-31),(2023.48,-29),(2023.61,-31),(2023.75,-32),(2023.81,-33.5),(2023.93,-28),(2024.06,-27),(2024.20,-25),(2024.33,-22),(2024.47,-19),(2024.60,-17),(2024.74,-19),(2024.87,-21),(2025.00,-18),(2025.14,-14),(2025.23,-27),(2025.32,-13),(2025.45,-6),(2025.59,-3),(2025.72,0),(2026.04,0),(2026.22,-2),(2026.41,-4)]

# ======================= MSCI World =======================
WORLD_TREND = [(2009.71,0),(2009.75,-1),(2009.79,-4.5),(2009.82,-2),(2009.86,-1),(2009.90,-3),(2009.95,0),(2010.00,-2),(2010.05,0),(2010.10,-1.5),(2010.15,0),(2010.20,-2),(2010.25,0),(2010.31,-1),(2010.35,-4),(2010.37,-6),(2010.40,-8),(2010.44,-3),(2010.47,-5),(2010.50,-10.3),(2010.54,-4),(2010.57,-6),(2010.60,-3),(2010.63,-7.5),(2010.67,-4),(2010.70,-3),(2010.75,-5),(2010.80,-2),(2010.86,0),(2010.91,-1),(2010.96,0),(2011.01,-2),(2011.06,-1),(2011.10,-3),(2011.15,-5),(2011.19,-7),(2011.22,-10),(2011.25,-5),(2011.28,-4),(2011.32,-7),(2011.35,-6),(2011.38,-8),(2011.41,-9.5),(2011.46,-7.3),(2011.99,-7.3),(2012.03,-5),(2012.07,-3),(2012.10,-1),(2012.13,0),(2012.17,-2),(2012.20,-1),(2012.23,-4),(2012.26,-3),(2012.30,-5),(2012.33,-2),(2012.36,-6),(2012.39,-7.5),(2012.43,-4),(2012.46,-3),(2012.50,-1),(2012.55,0),(2012.60,-2),(2012.65,-1),(2012.70,-4),(2012.75,-3),(2012.80,-5),(2012.85,-2),(2012.88,-6),(2012.92,-2),(2012.98,0),(2013.03,-2),(2013.08,0),(2013.13,-1),(2013.18,0),(2013.24,-2),(2013.28,0),(2013.32,-3),(2013.36,-1),(2013.40,-4),(2013.44,-5),(2013.47,-10.3),(2013.50,-5),(2013.53,-4),(2013.57,-2),(2013.61,-5),(2013.65,-2),(2013.70,-4),(2013.74,-2),(2013.78,-5),(2013.82,0),(2013.87,-1),(2013.92,0),(2013.96,-2),(2014.00,-1),(2014.04,-3),(2014.08,-5.5),(2014.12,-2),(2014.16,0),(2014.21,-1),(2014.26,0),(2014.31,-2),(2014.36,0),(2014.41,-3),(2014.46,0),(2014.51,-1),(2014.56,-3),(2014.61,-4),(2014.65,-2),(2014.69,-5),(2014.73,-6),(2014.77,-8.6),(2014.81,-3),(2014.87,0),(2014.92,-1),(2014.97,0),(2015.02,-2),(2015.07,0),(2015.12,-1),(2015.17,0),(2015.22,-2),(2015.26,-1),(2015.30,-4),(2015.33,-6),(2015.37,-3),(2015.41,-5),(2015.45,-3),(2015.49,-7),(2015.53,-4),(2015.58,-5),(2015.62,-9),(2015.65,-17.7),(2015.68,-11.8),(2015.84,-11.8),(2015.88,-9),(2015.91,-8),(2015.94,-11),(2015.97,-15),(2016.00,-12),(2016.43,-12),(2016.46,-16),(2016.50,-11),(2016.53,-9),(2016.56,-11),(2016.59,-12),(2016.63,-9),(2016.66,-8.5),(2016.70,-10),(2016.73,-8),(2016.76,-9),(2016.80,-10),(2016.85,-11.5),(2016.88,-5),(2016.92,-1),(2016.97,0),(2017.02,-1),(2017.07,0),(2017.12,-2),(2017.17,-1),(2017.22,-3),(2017.28,-1.5),(2017.33,-2),(2017.37,-4),(2017.41,-3),(2017.46,-1),(2017.50,-3),(2017.54,-2.5),(2017.58,-4),(2017.63,-2),(2017.67,-5),(2017.72,-2),(2017.76,-3),(2017.80,-1),(2017.85,-4),(2017.90,-1),(2017.93,0),(2017.98,-1),(2018.03,-2),(2018.06,-3),(2018.09,-5),(2018.11,-7),(2018.15,-5),(2018.18,-8),(2018.21,-9),(2018.25,-5),(2018.28,-3),(2018.31,-4),(2018.35,-6),(2018.40,-6),(2018.45,-3),(2018.50,-2),(2018.55,-1),(2018.59,-3),(2018.63,-1),(2018.68,-2),(2018.72,-4),(2018.76,-6),(2018.81,-5),(2018.86,-8),(2018.90,-9),(2018.92,-10),(2018.97,-16),(2019.00,-12.7),(2019.18,-12.7),(2019.21,-9),(2019.25,-8),(2019.28,-11),(2019.31,-9),(2019.35,-7.5),(2019.38,-9),(2019.41,-12),(2019.46,-8),(2019.51,-6),(2019.55,-8),(2019.60,-10),(2019.64,-6),(2019.67,-5),(2019.72,-3),(2019.77,-4),(2019.81,-2),(2019.86,-1.5),(2019.90,-3),(2019.96,0),(2020.01,-1),(2020.06,-2),(2020.09,-1),(2020.12,0),(2020.16,-14.5),(2020.64,-14.5),(2020.68,-12),(2020.71,-17),(2020.74,-13),(2020.77,-11),(2020.80,-14),(2020.83,-17.5),(2020.87,-10),(2020.92,-8),(2020.97,-6),(2021.02,-5),(2021.07,-3),(2021.13,-1.5),(2021.17,-2),(2021.20,0),(2021.25,-1),(2021.29,-2),(2021.34,0),(2021.39,-3.5),(2021.44,-1),(2021.49,-1),(2021.53,0),(2021.58,-3),(2021.62,-2),(2021.67,-1),(2021.71,-4),(2021.75,-4),(2021.80,-1),(2021.84,-3),(2021.88,-1),(2021.93,-2),(2021.97,-1),(2022.01,-3),(2022.06,-9.5),(2022.10,-8),(2022.14,-11),(2022.18,-7),(2022.22,-4),(2022.26,-7),(2022.30,-6),(2022.34,-9),(2022.38,-13),(2022.43,-8.8),(2022.56,-8.8),(2022.60,-6),(2022.63,-5),(2022.66,-10.4),(2023.08,-9),(2023.11,-6),(2023.14,-8),(2023.17,-11.5),(2023.21,-9),(2023.24,-7),(2023.27,-6),(2023.31,-9),(2023.34,-8),(2023.38,-5),(2023.41,-3),(2023.45,-4),(2023.50,-2),(2023.54,-1),(2023.57,0),(2023.61,-2),(2023.66,-1),(2023.70,-3),(2023.75,-4),(2023.80,-7),(2023.83,-5),(2023.86,-6),(2023.90,-3),(2023.93,-2),(2023.97,-1),(2024.02,0),(2024.06,-1),(2024.11,0),(2024.15,-1),(2024.20,-2),(2024.24,0),(2024.28,-3),(2024.33,-1),(2024.37,-2),(2024.41,-1),(2024.46,-4),(2024.50,-2),(2024.54,-3),(2024.58,-8),(2024.61,-4),(2024.64,-2),(2024.69,-1),(2024.74,0),(2024.78,-2),(2024.83,-1),(2024.87,-2),(2024.92,0),(2024.96,-3),(2025.00,0),(2025.05,-2),(2025.09,-1),(2025.13,-1),(2025.16,-3),(2025.19,-6),(2025.24,-11),(2025.58,-9.5),(2025.62,-8),(2025.65,-7),(2025.70,-8),(2025.75,-6.5),(2025.79,-5),(2025.84,-4),(2025.88,-6),(2025.93,-3),(2025.97,-5),(2026.02,-2),(2026.06,-4),(2026.10,-3),(2026.15,-2),(2026.20,-4),(2026.23,-7),(2026.27,-5),(2026.30,-6.5),(2026.36,-6),(2026.40,-3),(2026.43,-2),(2026.46,-3)]
WORLD_CORE = [(2009.71,0),(2009.85,-2),(2010.00,-1),(2010.20,0),(2010.35,-3),(2010.45,-5),(2010.55,-3),(2010.65,-4),(2010.80,-1.5),(2010.90,0),(2011.10,0),(2011.20,-4),(2011.30,-3),(2011.40,-5),(2011.50,-8),(2011.54,-12),(2011.61,-15),(2011.64,-13),(2011.71,-12.5),(2011.77,-11),(2011.84,-10.5),(2011.90,-9),(2011.97,-8),(2012.03,-5),(2012.10,-2),(2012.15,0),(2012.30,-2),(2012.40,-4),(2012.55,0),(2012.75,-2),(2012.88,-3),(2013.00,0),(2013.30,-1),(2013.47,-5),(2013.60,-2),(2013.80,0),(2014.08,-3),(2014.20,0),(2014.50,0),(2014.77,-5),(2014.90,0),(2015.30,-2),(2015.50,-4),(2015.60,-3),(2015.65,-12),(2015.71,-9),(2015.81,-11),(2015.88,-7),(2015.94,-9),(2016.00,-13),(2016.07,-16),(2016.11,-18.5),(2016.17,-14),(2016.23,-11),(2016.33,-10),(2016.43,-8),(2016.49,-10),(2016.56,-5),(2016.66,-4.5),(2016.76,-5),(2016.85,-3),(2016.92,0),(2017.20,-1),(2017.50,-1),(2017.67,-2),(2017.90,0),(2018.11,-5),(2018.24,-3),(2018.37,-1),(2018.50,-2),(2018.63,0),(2018.83,-4),(2018.92,-8),(2018.99,-10),(2019.05,-6),(2019.12,-2.5),(2019.21,0),(2019.31,-2),(2019.41,-4),(2019.51,-1),(2019.60,-3),(2019.73,0),(2020.12,0),(2020.18,-20),(2020.21,-29),(2020.24,-20),(2020.31,-17.5),(2020.38,-16),(2020.48,-14.5),(2020.58,-12.5),(2020.68,-11),(2020.77,-10),(2020.87,-8),(2020.97,-6.5),(2021.07,-4.5),(2021.16,-1.5),(2021.23,0),(2021.50,-1),(2021.80,0),(2022.00,-1),(2022.06,-8),(2022.20,-4),(2022.33,-7),(2022.43,-12),(2022.48,-14),(2022.56,-8),(2022.63,-5),(2022.69,-9),(2022.76,-11.5),(2022.82,-9),(2022.89,-7.5),(2022.98,-11),(2023.08,-8),(2023.18,-10),(2023.28,-6),(2023.37,-4),(2023.47,-2),(2023.57,-1),(2023.70,-2),(2023.83,-5),(2023.93,-1.5),(2024.02,0),(2024.40,-0.5),(2024.80,0),(2025.19,-4),(2025.26,-19),(2025.30,-12),(2025.39,-9),(2025.48,-7.5),(2025.58,-5.5),(2025.67,-3),(2025.77,0),(2025.90,-1),(2026.04,0),(2026.17,-2),(2026.30,0),(2026.46,-1)]
WORLD_MACRO_NO_TECH = [(2009.71,0),(2009.85,-2),(2010.00,-1),(2010.20,0),(2010.35,-3),(2010.45,-5),(2010.55,-3),(2010.65,-4),(2010.80,-1.5),(2010.90,0),(2011.10,0),(2011.20,-4),(2011.30,-3),(2011.40,-5),(2011.50,-8),(2011.54,-13),(2011.61,-17),(2011.64,-14),(2011.71,-15),(2011.77,-13),(2011.84,-12),(2011.90,-11),(2011.97,-9),(2012.03,-5),(2012.10,-2),(2012.15,0),(2012.30,-2),(2012.40,-4),(2012.55,0),(2012.75,-2),(2012.88,-3),(2013.00,0),(2013.30,-1),(2013.47,-5),(2013.60,-2),(2013.80,0),(2014.08,-3),(2014.20,0),(2014.50,0),(2014.77,-5),(2014.90,0),(2015.30,-2),(2015.50,-4),(2015.60,-3),(2015.65,-9),(2015.71,-7),(2015.81,-8),(2015.88,-4),(2015.94,-6),(2016.00,-9),(2016.07,-12),(2016.11,-14),(2016.17,-9),(2016.23,-8),(2016.33,-6),(2016.43,-4),(2016.49,-6),(2016.56,-3),(2016.66,-3),(2016.76,-3.5),(2016.85,-2),(2016.92,0),(2017.20,-1),(2017.50,-1),(2017.67,-2),(2017.90,0),(2018.11,-5),(2018.24,-3),(2018.37,-1),(2018.50,-2),(2018.63,0),(2018.83,-3),(2018.92,-6),(2018.99,-8),(2019.05,-5),(2019.12,-2),(2019.21,0),(2019.31,-2),(2019.41,-4),(2019.51,-1),(2019.60,-3),(2019.73,0),(2020.12,0),(2020.18,-18),(2020.21,-27),(2020.24,-18),(2020.31,-16),(2020.38,-14.5),(2020.48,-13),(2020.58,-11),(2020.68,-9.5),(2020.77,-8.5),(2020.87,-6.5),(2020.97,-5),(2021.07,-3),(2021.16,-1),(2021.23,0),(2021.50,-1),(2021.80,0),(2022.00,-1),(2022.06,-8),(2022.20,-4),(2022.33,-7),(2022.43,-12),(2022.48,-14),(2022.56,-8),(2022.63,-5),(2022.69,-9),(2022.76,-11.5),(2022.82,-9),(2022.89,-7.5),(2022.98,-11),(2023.08,-8),(2023.18,-10),(2023.28,-6),(2023.37,-4),(2023.47,-2),(2023.57,-1),(2023.70,-2),(2023.83,-5),(2023.93,-1.5),(2024.02,0),(2024.40,-0.5),(2024.80,0),(2025.19,-4),(2025.26,-17),(2025.30,-10),(2025.39,-7),(2025.48,-5),(2025.58,-3),(2025.67,-1),(2025.77,0),(2025.90,-1),(2026.04,0),(2026.17,-2),(2026.30,0),(2026.46,-1)]
WORLD_MACRO = [(2009.71,0),(2009.85,-2),(2010.00,-1),(2010.20,0),(2010.35,-3),(2010.45,-5),(2010.55,-3),(2010.65,-4),(2010.80,-1.5),(2010.90,0),(2011.10,0),(2011.20,-4),(2011.30,-3),(2011.40,-5),(2011.50,-8),(2011.54,-13),(2011.61,-17),(2011.64,-14),(2011.71,-15),(2011.77,-13),(2011.84,-9),(2011.90,-8.5),(2011.97,-8),(2012.03,-5),(2012.10,-1.5),(2012.15,0),(2012.30,-2),(2012.40,-4),(2012.55,0),(2012.75,-2),(2012.88,-3),(2013.00,0),(2013.30,-1),(2013.47,-5),(2013.60,-2),(2013.80,0),(2014.08,-3),(2014.20,0),(2014.50,0),(2014.77,-5),(2014.90,0),(2015.30,-2),(2015.50,-4),(2015.60,-3),(2015.65,-9),(2015.71,-7),(2015.81,-8),(2015.88,-4),(2015.94,-6),(2016.00,-9),(2016.07,-12),(2016.11,-14),(2016.17,-9),(2016.23,-8),(2016.33,-6),(2016.43,-4),(2016.49,-6),(2016.56,-3),(2016.66,-3),(2016.76,-3.5),(2016.85,-2),(2016.92,0),(2017.20,-1),(2017.50,-1),(2017.67,-2),(2017.90,0),(2018.11,-5),(2018.24,-3),(2018.37,-1),(2018.50,-2),(2018.63,0),(2018.83,-3),(2018.92,-6),(2018.99,-8),(2019.05,-5),(2019.12,-2),(2019.21,0),(2019.31,-2),(2019.41,-4),(2019.51,-1),(2019.60,-3),(2019.73,0),(2020.12,0),(2020.18,-18),(2020.21,-27),(2020.24,-18),(2020.31,-15),(2020.38,-13),(2020.48,-11.5),(2020.58,-10),(2020.68,-8),(2020.77,-6.5),(2020.87,-5),(2020.97,-3.5),(2021.07,-2),(2021.16,0),(2021.23,0),(2021.50,-1),(2021.80,0),(2022.00,-1),(2022.06,-8),(2022.20,-4),(2022.33,-7),(2022.43,-12),(2022.48,-14),(2022.56,-8),(2022.63,-5),(2022.69,-9),(2022.76,-11.5),(2022.82,-9),(2022.89,-7.5),(2022.98,-11),(2023.08,-8),(2023.18,-10),(2023.28,-6),(2023.37,-4),(2023.47,-2),(2023.57,-1),(2023.70,-2),(2023.83,-5),(2023.93,-1.5),(2024.02,0),(2024.40,-0.5),(2024.80,0),(2025.19,-4),(2025.26,-17),(2025.30,-10),(2025.39,-7),(2025.48,-5),(2025.58,-3),(2025.67,-1),(2025.77,0),(2025.90,-1),(2026.04,0),(2026.17,-2),(2026.30,0),(2026.46,-1)]
WORLD_BUY_HOLD = [(2009.71,0),(2009.85,-2.5),(2010.00,-1),(2010.20,0),(2010.35,-3.5),(2010.45,-5.5),(2010.55,-3),(2010.65,-4.5),(2010.80,-1.5),(2010.90,0),(2011.10,0),(2011.20,-4),(2011.30,-3),(2011.40,-5),(2011.50,-7),(2011.54,-15),(2011.61,-20.3),(2011.66,-16),(2011.71,-19),(2011.77,-19.2),(2011.82,-14),(2011.87,-12),(2011.90,-16.3),(2011.97,-11),(2012.03,-6),(2012.10,-3),(2012.15,0),(2012.30,-2),(2012.40,-4),(2012.55,0),(2012.75,-2),(2012.88,-3),(2013.00,0),(2013.30,-1),(2013.47,-5),(2013.60,-2),(2013.80,0),(2014.08,-3),(2014.20,0),(2014.50,0),(2014.77,-5),(2014.90,0),(2015.30,-2),(2015.50,-4),(2015.60,-3),(2015.65,-12),(2015.71,-15),(2015.74,-17),(2015.84,-10),(2015.94,-12),(2016.04,-18),(2016.11,-22.5),(2016.17,-15),(2016.23,-14),(2016.33,-12),(2016.43,-11),(2016.53,-8),(2016.59,-7.5),(2016.69,-7),(2016.79,-5),(2016.89,-2),(2016.95,0),(2017.20,-1),(2017.50,-1),(2017.67,-2),(2017.90,0),(2018.11,-6),(2018.24,-4),(2018.37,-1.5),(2018.50,-2.5),(2018.63,0),(2018.83,-5),(2018.92,-9),(2018.99,-12),(2019.05,-7),(2019.12,-3),(2019.21,0),(2019.31,-2.5),(2019.41,-5),(2019.51,-1.5),(2019.60,-3.5),(2019.73,0),(2020.12,0),(2020.18,-22),(2020.21,-33.5),(2020.25,-22),(2020.31,-18),(2020.38,-13),(2020.45,-10),(2020.51,-8),(2020.58,-7),(2020.68,-5),(2020.77,-4),(2020.87,-2.5),(2020.97,-1),(2021.07,0),(2021.50,-1),(2021.80,0),(2022.00,-1),(2022.06,-8),(2022.20,-4),(2022.33,-7),(2022.43,-11),(2022.46,-16.5),(2022.53,-10),(2022.63,-4),(2022.69,-11),(2022.74,-13.5),(2022.82,-10),(2022.89,-9),(2022.98,-14),(2023.05,-10),(2023.18,-12.5),(2023.28,-7),(2023.37,-5),(2023.47,-4),(2023.57,-2),(2023.70,-2),(2023.83,-5),(2023.93,-1.5),(2024.02,0),(2024.40,-0.5),(2024.80,0),(2025.19,-4),(2025.26,-21.5),(2025.30,-12),(2025.39,-8),(2025.48,-6.5),(2025.58,-4.5),(2025.67,-2),(2025.77,0),(2025.90,-1),(2026.04,0),(2026.17,-2),(2026.23,-7),(2026.33,-1),(2026.46,-1)]

# ======================= Nasdaq 100 =======================
NDX_TREND = [(1999.17,0),(1999.22,-7),(1999.33,-2),(1999.39,-11),(1999.49,-3),(1999.60,-8),(1999.70,0),(1999.81,-5),(1999.92,-1),(2000.02,-15),(2000.08,-2),(2000.13,0),(2000.23,-1),(2000.29,-32),(2000.34,-14),(2000.39,-36),(2000.45,-22),(2000.50,-25),(2000.60,-33),(2000.68,-32),(2000.74,-41),(2000.76,-40),(2001.20,-39),(2001.70,-38),(2002.40,-37.3),(2003.15,-36.5),(2003.20,-40),(2003.25,-31),(2003.36,-27),(2003.47,-23),(2003.57,-20),(2003.68,-14),(2003.78,-12),(2003.89,-8),(2004.00,-5),(2004.07,-2),(2004.16,-6),(2004.26,-5),(2004.37,-8),(2004.47,-6),(2004.58,-10.5),(2004.61,-15.5),(2004.86,-15.5),(2004.90,-10),(2004.97,-7),(2005.06,-10),(2005.16,-14),(2005.27,-15),(2005.37,-18),(2005.48,-17),(2005.59,-19),(2005.69,-20),(2005.80,-21.5),(2005.90,-16),(2006.01,-10),(2006.12,-13),(2006.22,-11),(2006.33,-13),(2006.41,-19),(2006.70,-17.5),(2006.81,-11),(2006.91,-10),(2007.02,-8),(2007.12,-12),(2007.23,-6),(2007.34,-5),(2007.44,-3),(2007.55,-1),(2007.65,-6),(2007.76,0),(2007.87,0),(2007.97,-5),(2008.02,-12),(2008.08,-20),(2008.10,-18),(2008.40,-18),(2008.45,-17),(2008.48,-25.2),(2009.35,-25.2),(2009.37,-28),(2009.44,-22),(2009.51,-18),(2009.62,-12),(2009.72,-8),(2009.83,-6),(2009.93,-4),(2010.04,0),(2010.20,-1),(2010.30,0),(2010.41,-6),(2010.52,-11),(2010.62,-17),(2010.73,-20),(2010.83,-13),(2010.94,-9),(2011.05,-6),(2011.15,-4),(2011.26,-2),(2011.36,-6),(2011.47,-9),(2011.58,-5),(2011.65,-9.5),(2012.00,-9.5),(2012.10,-3),(2012.21,0),(2012.26,-2),(2012.31,-4),(2012.36,-3),(2012.42,-2),(2012.48,-5),(2012.53,-4),(2012.58,-6),(2012.63,-3),(2012.69,-1),(2012.75,-3),(2012.81,-4),(2012.87,-2),(2012.92,-5),(2012.97,-4),(2013.02,-6),(2013.08,-3),(2013.13,-1),(2013.18,-2),(2013.23,0),(2013.29,-2),(2013.34,0),(2013.40,-3),(2013.45,-1),(2013.50,0),(2013.56,-2),(2013.61,-1),(2013.66,0),(2013.72,-2),(2013.77,0),(2013.82,-1),(2013.87,-3),(2013.93,0),(2013.98,-2),(2014.04,-1),(2014.09,-1),(2014.14,-3),(2014.20,-2),(2014.25,-5),(2014.30,-4),(2014.35,-1),(2014.41,0),(2014.46,-2),(2014.51,0),(2014.56,-3),(2014.62,-2),(2014.67,-4),(2014.72,-7),(2014.77,-3),(2014.83,-3),(2014.88,-1),(2014.93,0),(2014.99,-2),(2015.04,-1),(2015.09,-2),(2015.15,0),(2015.20,-3),(2015.26,-3),(2015.31,-1),(2015.36,0),(2015.42,-2),(2015.47,0),(2015.52,-3),(2015.58,-5),(2015.63,-12),(2015.79,-5),(2015.89,-7),(2016.00,-17),(2016.05,-15.5),(2016.27,-15.5),(2016.37,-18),(2016.48,-24),(2016.59,-15),(2016.69,-12),(2016.85,-13),(2016.96,-10),(2017.06,-7),(2017.17,-2),(2017.28,0),(2017.34,-2),(2017.39,0),(2017.45,-3),(2017.50,-3),(2017.55,-1),(2017.61,0),(2017.66,-2),(2017.70,0),(2017.76,-1),(2017.82,-3),(2017.87,-1),(2017.90,-4),(2017.95,-2),(2018.01,0),(2018.07,-10.5),(2018.12,-6),(2018.16,-4),(2018.20,-2),(2018.26,-5),(2018.31,-3),(2018.36,-1),(2018.40,0),(2018.46,-2),(2018.51,0),(2018.56,-1),(2018.60,-3),(2018.66,-1),(2018.71,0),(2018.77,-4),(2018.82,-8),(2018.93,-11),(2019.03,-7),(2019.13,-4),(2019.24,-2),(2019.35,-4),(2019.45,-1),(2019.51,0),(2019.60,-2),(2019.70,-4),(2019.83,-3),(2019.93,0),(2020.04,-1),(2020.15,-12),(2020.20,-28),(2020.26,-20),(2020.31,-18),(2020.41,-10),(2020.50,-7),(2020.57,-5),(2020.65,-2),(2020.73,-1),(2020.78,-3),(2020.84,-2),(2020.89,-4),(2020.94,-1),(2021.00,-3),(2021.05,-1),(2021.10,-4),(2021.16,-3),(2021.21,-6),(2021.27,-2),(2021.32,0),(2021.38,-2),(2021.43,0),(2021.48,-3),(2021.54,-1),(2021.59,-4),(2021.64,-2),(2021.70,0),(2021.75,-2),(2021.80,-1),(2021.85,0),(2021.91,-2),(2021.96,-1),(2022.01,-4),(2022.06,-3),(2022.12,-13),(2022.17,-10),(2022.60,-9),(2023.07,-7),(2023.13,-2),(2023.23,-5),(2023.34,0),(2023.39,-2),(2023.45,-1),(2023.50,-3),(2023.55,-1),(2023.61,-2),(2023.66,-3),(2023.71,-5),(2023.77,-2),(2023.82,-1),(2023.87,-4),(2023.93,-2),(2023.98,-3),(2024.03,-1),(2024.09,0),(2024.14,-2),(2024.19,0),(2024.25,-3),(2024.30,-1),(2024.35,-2),(2024.40,-2),(2024.46,-4),(2024.51,-1),(2024.57,-3),(2024.62,-12),(2024.67,-4),(2024.72,-2),(2024.78,0),(2024.83,-3),(2024.88,-1),(2024.94,-1),(2024.99,-4),(2025.04,-2),(2025.10,0),(2025.15,-5),(2025.20,-12),(2025.26,-11),(2025.42,-10),(2025.47,-5),(2025.52,-3),(2025.58,-2),(2025.63,-1),(2025.68,-3),(2025.74,0),(2025.79,-4),(2025.84,-2),(2025.90,-1),(2025.95,0),(2026.00,-2),(2026.06,-1),(2026.11,-3),(2026.16,-2),(2026.22,-5),(2026.27,-10),(2026.32,-4),(2026.37,-1),(2026.42,-3),(2026.48,-6)]
NDX_CORE = [(1999.17,0),(1999.30,-2),(1999.39,-3),(1999.50,-1),(1999.70,0),(1999.90,-2),(2000.10,0),(2000.25,-2),(2000.34,-13),(2000.45,-18),(2000.50,-20),(2000.60,-10),(2000.68,-8),(2000.71,-18),(2000.82,-27),(2000.92,-35),(2001.03,-42),(2001.13,-50),(2001.24,-57),(2001.31,-52),(2001.40,-46),(2001.50,-50),(2001.61,-53),(2001.72,-59),(2001.82,-56),(2001.93,-52),(2002.04,-54),(2002.14,-57),(2002.25,-58),(2002.35,-61),(2002.46,-63),(2002.57,-65),(2002.67,-63),(2002.76,-65),(2002.83,-62),(2002.94,-60),(2003.04,-62),(2003.15,-60),(2003.25,-58),(2003.36,-56),(2003.47,-54),(2003.63,-53),(2003.78,-51),(2003.94,-50),(2004.05,-48),(2004.16,-50),(2004.26,-48),(2004.37,-50),(2004.49,-47.5),(2004.63,-50),(2004.79,-47),(2004.95,-43),(2005.11,-46),(2005.27,-47),(2005.43,-44),(2005.59,-42),(2005.75,-43),(2005.90,-40),(2006.06,-39),(2006.17,-41),(2006.33,-41),(2006.43,-44),(2006.54,-47),(2006.70,-44),(2006.86,-39),(2007.02,-37),(2007.18,-36),(2007.34,-34),(2007.50,-31),(2007.65,-29),(2007.76,-26),(2007.83,-22),(2007.92,-28),(2008.02,-29),(2008.13,-32),(2008.24,-30),(2008.40,-27),(2008.55,-30),(2008.66,-29),(2008.73,-37),(2008.82,-42),(2008.93,-43),(2009.03,-45),(2009.14,-43),(2009.24,-45),(2009.35,-40),(2009.46,-37),(2009.62,-34),(2009.77,-33),(2009.88,-31),(2010.04,-29),(2010.20,-27),(2010.33,-23),(2010.46,-25),(2010.62,-27),(2010.73,-31),(2010.83,-23),(2010.94,-17),(2011.10,-14),(2011.21,-13),(2011.31,-14),(2011.42,-13),(2011.52,-14),(2011.63,-19),(2011.74,-15),(2011.89,-12),(2012.05,-9),(2012.21,-3),(2012.32,-1),(2012.42,-4),(2012.53,-2),(2012.63,-0.5),(2012.74,-3),(2012.84,-5),(2013.02,-5),(2013.23,-1),(2013.34,0),(2013.60,-2),(2013.90,0),(2014.20,-2),(2014.50,0),(2014.75,-3),(2015.00,0),(2015.40,-1),(2015.68,-6),(2015.84,-10),(2016.00,-12),(2016.11,-10),(2016.27,-6),(2016.43,-3),(2016.53,0),(2017.00,-1),(2017.50,0),(2018.00,-1),(2018.50,0),(2018.82,-5),(2018.93,-11),(2018.98,-20),(2019.09,-12),(2019.19,-5),(2019.40,-1),(2019.62,0),(2020.04,-1),(2020.15,-8),(2020.26,-18),(2020.36,-9),(2020.47,-2),(2020.68,0),(2021.20,-2),(2021.60,0),(2022.06,-3),(2022.17,-10),(2022.23,-17),(2022.33,-15),(2022.44,-20),(2022.54,-25),(2022.65,-21),(2022.76,-26),(2022.86,-24),(2022.97,-28),(2023.02,-25),(2023.13,-24),(2023.23,-21),(2023.34,-15),(2023.45,-10),(2023.55,-6),(2023.66,-4),(2023.77,-6),(2023.87,-2),(2024.03,0),(2024.50,-1),(2024.62,-4),(2024.80,0),(2025.20,-5),(2025.28,-12),(2025.36,-6),(2025.47,-3),(2025.63,0),(2026.00,0),(2026.27,-2),(2026.48,-1)]
NDX_MACRO_NO_TECH = [(1999.17,0),(1999.30,-2),(1999.39,-3),(1999.50,-1),(1999.70,0),(1999.90,-2),(2000.10,0),(2000.25,-2),(2000.34,-14),(2000.45,-19),(2000.50,-21),(2000.60,-11),(2000.68,-9),(2000.71,-19),(2000.82,-29),(2000.92,-37),(2001.03,-44),(2001.13,-52),(2001.24,-59),(2001.31,-55),(2001.40,-49),(2001.50,-52),(2001.61,-56),(2001.72,-62),(2001.82,-59),(2001.93,-55),(2002.04,-57),(2002.14,-59),(2002.25,-60),(2002.35,-63),(2002.46,-65),(2002.57,-67),(2002.67,-65),(2002.76,-67),(2002.83,-64),(2002.94,-63),(2003.04,-64),(2003.15,-63),(2003.25,-61),(2003.36,-59),(2003.47,-57),(2003.63,-55),(2003.78,-54),(2003.94,-53),(2004.05,-51),(2004.16,-53),(2004.26,-51),(2004.37,-53),(2004.49,-50),(2004.63,-53),(2004.79,-50),(2004.95,-46),(2005.11,-49),(2005.27,-50),(2005.43,-47),(2005.59,-45),(2005.75,-46),(2005.90,-43),(2006.06,-42),(2006.17,-44),(2006.33,-44),(2006.43,-47),(2006.54,-50),(2006.70,-47),(2006.86,-42),(2007.02,-40),(2007.18,-39),(2007.34,-37),(2007.50,-34),(2007.65,-32),(2007.76,-29),(2007.83,-25),(2007.92,-31),(2008.02,-32),(2008.13,-35),(2008.24,-33),(2008.40,-30),(2008.55,-33),(2008.66,-32),(2008.73,-40),(2008.82,-45),(2008.93,-46),(2009.03,-48),(2009.14,-46),(2009.24,-48),(2009.35,-43),(2009.46,-40),(2009.62,-37),(2009.77,-35),(2009.88,-33),(2010.04,-31),(2010.20,-29),(2010.33,-25),(2010.46,-28),(2010.62,-30),(2010.73,-34),(2010.83,-26),(2010.94,-20),(2011.10,-17),(2011.21,-16),(2011.31,-18),(2011.42,-16),(2011.52,-20),(2011.63,-25),(2011.74,-22),(2011.89,-22),(2012.05,-17),(2012.21,-10),(2012.32,-12),(2012.42,-16),(2012.53,-12),(2012.63,-10),(2012.74,-13),(2012.84,-11),(2013.02,-9),(2013.23,-4),(2013.34,-1),(2013.60,-2),(2013.90,0),(2014.20,-2),(2014.50,0),(2014.75,-3),(2015.00,0),(2015.40,-1),(2015.68,-6),(2015.84,-10),(2016.00,-12),(2016.11,-10),(2016.27,-6),(2016.43,-3),(2016.53,0),(2017.00,-1),(2017.50,0),(2018.00,-1),(2018.50,0),(2018.82,-5),(2018.93,-11),(2018.98,-20),(2019.09,-12),(2019.19,-5),(2019.40,-1),(2019.62,0),(2020.04,-1),(2020.15,-8),(2020.26,-18),(2020.36,-9),(2020.47,-2),(2020.68,0),(2021.20,-2),(2021.60,0),(2022.06,-3),(2022.17,-10),(2022.23,-17),(2022.33,-15),(2022.44,-20),(2022.54,-25),(2022.65,-21),(2022.76,-26),(2022.86,-24),(2022.97,-28),(2023.02,-25),(2023.13,-24),(2023.23,-21),(2023.34,-15),(2023.45,-10),(2023.55,-6),(2023.66,-4),(2023.77,-6),(2023.87,-2),(2024.03,0),(2024.50,-1),(2024.62,-4),(2024.80,0),(2025.20,-5),(2025.28,-12),(2025.36,-4),(2025.47,-1),(2025.63,0),(2026.00,0),(2026.27,-2),(2026.48,-1)]
NDX_MACRO = [(1999.17,0),(1999.30,-2),(1999.39,-3),(1999.50,-1),(1999.70,0),(1999.90,-2),(2000.10,0),(2000.25,-2),(2000.34,-14),(2000.45,-19),(2000.50,-21),(2000.60,-11),(2000.68,-9),(2000.71,-19),(2000.82,-30),(2000.92,-38),(2001.03,-45),(2001.13,-53),(2001.24,-60),(2001.31,-56),(2001.40,-50),(2001.50,-53),(2001.61,-57),(2001.72,-63),(2001.82,-60),(2001.93,-56),(2002.04,-58),(2002.14,-60),(2002.25,-61),(2002.35,-64),(2002.46,-66),(2002.57,-68),(2002.67,-66),(2002.76,-68),(2002.83,-65),(2002.94,-64),(2003.04,-65),(2003.15,-64),(2003.25,-62),(2003.36,-60),(2003.47,-58),(2003.63,-56),(2003.78,-55),(2003.94,-54),(2004.05,-52),(2004.16,-54),(2004.26,-52),(2004.37,-54),(2004.49,-51),(2004.63,-54),(2004.79,-51),(2004.95,-47),(2005.11,-50),(2005.27,-51),(2005.43,-48),(2005.59,-46),(2005.75,-47),(2005.90,-44),(2006.06,-43),(2006.17,-45),(2006.33,-45),(2006.43,-48),(2006.54,-51),(2006.70,-48),(2006.86,-43),(2007.02,-41),(2007.18,-40),(2007.34,-38),(2007.50,-35),(2007.65,-33),(2007.76,-30),(2007.83,-26),(2007.92,-32),(2008.02,-33),(2008.13,-36),(2008.24,-34),(2008.40,-31),(2008.55,-34),(2008.66,-33),(2008.73,-41),(2008.82,-46),(2008.93,-47),(2009.03,-49),(2009.14,-47),(2009.24,-49),(2009.35,-44),(2009.46,-41),(2009.62,-38),(2009.77,-36),(2009.88,-34),(2010.04,-32),(2010.20,-30),(2010.33,-26),(2010.46,-29),(2010.62,-31),(2010.73,-35),(2010.83,-27),(2010.94,-21),(2011.10,-18),(2011.21,-17),(2011.31,-18),(2011.42,-16),(2011.52,-18),(2011.63,-21),(2011.74,-17),(2011.89,-15),(2012.05,-12),(2012.21,-7),(2012.32,-8),(2012.42,-10),(2012.53,-8),(2012.63,-6),(2012.74,-7),(2012.84,-5),(2013.02,-4),(2013.23,-1),(2013.34,0),(2013.60,-2),(2013.90,0),(2014.20,-2),(2014.50,0),(2014.75,-3),(2015.00,0),(2015.40,-1),(2015.68,-6),(2015.84,-10),(2016.00,-12),(2016.11,-10),(2016.27,-6),(2016.43,-3),(2016.53,0),(2017.00,-1),(2017.50,0),(2018.00,-1),(2018.50,0),(2018.82,-5),(2018.93,-11),(2018.98,-20),(2019.09,-12),(2019.19,-5),(2019.40,-1),(2019.62,0),(2020.04,-1),(2020.15,-8),(2020.26,-18),(2020.36,-9),(2020.47,-2),(2020.68,0),(2021.20,-2),(2021.60,0),(2022.06,-3),(2022.17,-10),(2022.23,-17),(2022.33,-15),(2022.44,-20),(2022.54,-25),(2022.65,-21),(2022.76,-26),(2022.86,-24),(2022.97,-28),(2023.02,-25),(2023.13,-24),(2023.23,-21),(2023.34,-15),(2023.45,-10),(2023.55,-6),(2023.66,-4),(2023.77,-6),(2023.87,-2),(2024.03,0),(2024.50,-1),(2024.62,-4),(2024.80,0),(2025.20,-5),(2025.28,-12),(2025.36,-4),(2025.47,-1),(2025.63,0),(2026.00,0),(2026.27,-2),(2026.48,-1)]
NDX_BUY_HOLD = [(1999.17,0),(1999.30,-2),(1999.39,-4),(1999.50,-1),(1999.70,0),(1999.90,-2),(2000.10,0),(2000.25,-2),(2000.34,-16),(2000.45,-23),(2000.55,-18),(2000.66,-20),(2000.74,-30),(2000.82,-42),(2000.92,-47),(2001.00,-55),(2001.08,-60),(2001.19,-58),(2001.27,-71),(2001.35,-62),(2001.45,-64),(2001.56,-66),(2001.66,-72),(2001.74,-76),(2001.84,-70),(2001.95,-65),(2002.06,-68),(2002.16,-71),(2002.27,-73),(2002.37,-76),(2002.48,-79),(2002.59,-80),(2002.67,-79),(2002.76,-83),(2002.86,-79),(2002.94,-78),(2003.04,-80),(2003.15,-79),(2003.25,-78),(2003.36,-76),(2003.47,-74),(2003.63,-72),(2003.78,-70),(2003.94,-70),(2004.05,-67),(2004.21,-69),(2004.37,-70),(2004.53,-68),(2004.63,-71),(2004.79,-69),(2004.97,-65),(2005.11,-67),(2005.27,-69),(2005.43,-67),(2005.59,-66),(2005.75,-66),(2005.90,-65),(2006.06,-63),(2006.22,-64),(2006.33,-64),(2006.43,-67),(2006.56,-69),(2006.70,-66),(2006.86,-63),(2007.02,-61),(2007.18,-59),(2007.34,-58),(2007.50,-56),(2007.65,-55),(2007.81,-52),(2007.92,-56),(2008.02,-55),(2008.13,-60),(2008.24,-59),(2008.40,-56),(2008.55,-58),(2008.66,-58),(2008.77,-66),(2008.88,-76),(2008.98,-74),(2009.09,-77),(2009.19,-77),(2009.30,-70),(2009.40,-68),(2009.56,-65),(2009.72,-64),(2009.88,-61),(2010.04,-60),(2010.20,-58),(2010.33,-57),(2010.46,-60),(2010.62,-62),(2010.73,-60),(2010.89,-55),(2011.05,-52),(2011.21,-51),(2011.36,-52),(2011.52,-53),(2011.63,-56),(2011.79,-53),(2011.95,-52),(2012.05,-49),(2012.21,-44),(2012.38,-45),(2012.60,-38),(2012.81,-44),(2013.02,-39),(2013.23,-37),(2013.45,-33),(2013.55,-30),(2013.71,-27),(2013.82,-24),(2013.93,-21),(2014.09,-17),(2014.19,-18),(2014.30,-13),(2014.46,-10),(2014.62,-8),(2014.78,-15),(2014.88,-5),(2015.04,-3),(2015.20,-1),(2015.36,0),(2015.63,-12),(2015.79,-3),(2015.95,-7),(2016.05,-14),(2016.21,-8),(2016.37,-3),(2016.53,0),(2017.00,-1),(2017.50,0),(2018.00,-1),(2018.50,0),(2018.82,-6),(2018.93,-12),(2018.98,-22),(2019.09,-13),(2019.19,-5),(2019.40,-1),(2019.62,0),(2020.04,-1),(2020.15,-9),(2020.20,-27),(2020.31,-12),(2020.47,-3),(2020.68,0),(2021.20,-2),(2021.60,0),(2022.06,-3),(2022.17,-12),(2022.27,-20),(2022.44,-25),(2022.54,-30),(2022.70,-27),(2022.81,-35),(2022.91,-30),(2023.00,-35),(2023.13,-28),(2023.23,-22),(2023.39,-14),(2023.55,-8),(2023.71,-4),(2023.85,-7),(2023.98,-2),(2024.14,0),(2024.50,-1),(2024.62,-5),(2024.80,0),(2025.20,-6),(2025.29,-23),(2025.41,-8),(2025.57,-3),(2025.70,0),(2026.00,0),(2026.27,-3),(2026.48,-1)]

# ======================= S&P 500 =======================
SPX_TREND = [(1993.05,0),(1993.10,-3),(1993.15,-1),(1993.20,-4),(1993.26,-1),(1993.32,-5),(1993.38,-2),(1993.45,-3),(1993.52,-1),(1993.58,0),(1993.65,-2),(1993.71,-1),(1993.78,-3),(1993.85,0),(1993.91,-2),(1993.98,-1),(1994.04,-3),(1994.10,-1),(1994.17,-3),(1994.20,-4),(1994.23,-7.3),(1994.62,-5.5),(1994.68,-3),(1994.75,-4),(1994.82,-2),(1994.88,-6.5),(1994.95,-2),(1995.01,0),(1995.08,-1),(1995.15,0),(1995.22,-2),(1995.30,0),(1995.38,-1),(1995.46,0),(1995.53,-2),(1995.60,0),(1995.68,-1),(1995.75,-2),(1995.82,0),(1995.90,-1),(1995.97,-3),(1996.05,-1),(1996.12,-4),(1996.18,-1),(1996.25,-2),(1996.31,-4),(1996.38,-1),(1996.45,-3),(1996.51,-7.5),(1996.57,-3),(1996.64,-2),(1996.71,0),(1996.78,-1),(1996.85,0),(1996.92,-2),(1996.99,0),(1997.06,-1),(1997.12,-3),(1997.19,-2),(1997.26,-10),(1997.32,-3),(1997.38,-1),(1997.45,0),(1997.52,-2),(1997.58,0),(1997.65,-3),(1997.72,-1),(1997.78,-4),(1997.81,-11),(1997.86,-5),(1997.92,-3),(1997.98,-1),(1998.05,-2),(1998.12,0),(1998.19,-1),(1998.26,0),(1998.33,-2),(1998.40,0),(1998.47,-1),(1998.53,-3),(1998.60,-6),(1998.65,-10),(1998.69,-19),(1998.84,-18.3),(1998.88,-14),(1998.91,-10),(1998.97,-3),(1999.03,-1),(1999.09,-4),(1999.15,-1),(1999.21,-3),(1999.27,0),(1999.33,-5),(1999.39,-2),(1999.45,-6),(1999.51,-3),(1999.56,-7),(1999.62,-4),(1999.69,-9),(1999.75,-5),(1999.82,-10.5),(1999.88,-6),(1999.95,-3),(2000.01,-6),(2000.08,-8),(2000.14,-4),(2000.21,-5),(2000.27,-2),(2000.34,-10),(2000.40,-6),(2000.47,-2),(2000.53,-7),(2000.60,-5),(2000.66,-9),(2000.73,-2),(2000.78,-4),(2000.83,-6),(2001.12,-3.5),(2001.38,-2.5),(2001.70,-1.7),(2002.03,-1.2),(2002.26,-0.8),(2002.32,-7.5),(2002.35,-6.5),(2003.32,-5.2),(2003.39,-2),(2003.45,0),(2003.52,-2),(2003.60,-4),(2003.67,-1),(2003.75,0),(2003.82,-3),(2003.90,-4),(2003.97,-1),(2004.05,-2),(2004.12,0),(2004.18,-3),(2004.23,-5),(2004.30,-2),(2004.35,-1),(2004.42,-4),(2004.49,-7),(2004.55,-4),(2004.62,-6.5),(2004.68,-3),(2004.75,-2),(2004.82,-4),(2004.90,0),(2004.97,-2),(2005.03,-1),(2005.08,-4.5),(2005.14,-2),(2005.20,-1),(2005.27,-3),(2005.34,-1),(2005.42,-4),(2005.50,-3),(2005.56,-1),(2005.62,0),(2005.68,-2),(2005.73,-4),(2005.80,-2),(2005.86,0),(2005.93,-1),(2006.00,-3),(2006.05,-1),(2006.12,0),(2006.20,-1),(2006.27,-3),(2006.35,-2),(2006.40,-4),(2006.44,-6.5),(2006.50,-4),(2006.57,-3),(2006.64,-2),(2006.70,-1),(2006.77,-3),(2006.83,0),(2006.90,-1),(2006.97,0),(2007.04,-2),(2007.11,-1),(2007.16,-4),(2007.22,-3),(2007.30,-1),(2007.36,0),(2007.42,-2),(2007.48,-1),(2007.55,-6),(2007.62,-3),(2007.68,-9),(2007.74,-5),(2007.81,-3),(2007.87,-6),(2007.94,-10),(2008.00,-6),(2008.06,-6),(2008.40,-5.2),(2008.78,-4.8),(2009.49,-4.7),(2009.52,-9),(2009.57,-2),(2009.62,-3),(2009.68,0),(2009.74,-2),(2009.79,-3),(2009.85,-1),(2009.92,0),(2009.98,-3),(2010.05,-2),(2010.11,-4),(2010.18,-1),(2010.24,-3),(2010.31,-5),(2010.37,-8),(2010.44,-12),(2010.50,-9),(2010.57,-10),(2010.63,-14),(2010.70,-17),(2010.76,-12),(2010.83,-13),(2010.90,-9),(2010.96,-8),(2011.02,-5),(2011.09,-4),(2011.15,-2),(2011.22,-3),(2011.28,-1),(2011.35,-5),(2011.42,-3),(2011.48,-7),(2011.55,-13),(2011.61,-11.7),(2012.06,-11.7),(2012.13,-9),(2012.19,-7),(2012.26,-5),(2012.32,-8),(2012.39,-13),(2012.45,-7),(2012.52,-4),(2012.58,-5),(2012.65,-2),(2012.72,-3),(2012.78,-1),(2012.85,-4),(2012.91,0),(2012.98,-2),(2013.05,-1),(2013.10,-3),(2013.17,0),(2013.23,-2),(2013.30,0),(2013.36,-3),(2013.43,-5),(2013.50,-2),(2013.56,-3),(2013.60,-1),(2013.67,-4),(2013.73,-1),(2013.80,0),(2013.87,-2),(2013.94,-3),(2014.01,-1),(2014.08,-5.5),(2014.14,-2),(2014.20,-1),(2014.25,-3),(2014.32,0),(2014.39,-2),(2014.45,0),(2014.50,-1),(2014.57,-3),(2014.63,-2),(2014.70,-4),(2014.75,-2),(2014.79,-7.5),(2014.85,-3),(2014.90,-1),(2014.95,0),(2015.02,-2),(2015.08,-1),(2015.14,-3),(2015.20,-2),(2015.27,0),(2015.33,-2),(2015.39,-1),(2015.45,0),(2015.50,-3),(2015.56,-5),(2015.60,-8),(2015.64,-12),(2015.70,-7),(2015.77,-6),(2015.83,-9),(2015.90,-7),(2015.96,-8),(2016.03,-12.5),(2016.16,-12.7),(2016.22,-9),(2016.28,-10),(2016.35,-12),(2016.42,-10),(2016.48,-14.5),(2016.55,-9),(2016.61,-7),(2016.67,-10),(2016.74,-9),(2016.80,-6),(2016.87,-4),(2016.93,-3),(2017.00,-2),(2017.06,0),(2017.12,-1),(2017.19,0),(2017.25,-2),(2017.32,0),(2017.38,-1),(2017.45,0),(2017.50,-2),(2017.57,0),(2017.63,-1),(2017.70,0),(2017.76,-2),(2017.83,0),(2017.90,-1),(2017.97,0),(2018.04,-1),(2018.10,0),(2018.17,-9.5),(2018.23,-7),(2018.30,-6),(2018.36,-3),(2018.42,-5),(2018.49,-2),(2018.55,-1),(2018.62,-3),(2018.69,-4),(2018.75,-2),(2018.82,-8),(2018.88,-12),(2018.95,-20),(2019.01,-15.5),(2019.21,-15.5),(2019.27,-12),(2019.33,-9),(2019.40,-7),(2019.46,-10),(2019.53,-13),(2019.60,-11),(2019.66,-17),(2019.72,-13),(2019.79,-12),(2019.85,-8),(2019.92,-6),(2019.98,-3),(2020.05,-1),(2020.11,-2),(2020.16,0),(2020.25,-13.5),(2020.34,-13.5),(2020.40,-12),(2020.44,-10),(2020.50,-11),(2020.55,-8),(2020.60,-5),(2020.64,-2),(2020.70,-3),(2020.77,0),(2020.83,-2),(2020.90,-1),(2020.96,-3),(2021.03,-2),(2021.09,0),(2021.16,-2),(2021.22,-1),(2021.29,-4),(2021.35,-1),(2021.42,0),(2021.48,-2),(2021.55,-1),(2021.61,-3),(2021.68,0),(2021.74,-2),(2021.81,-3),(2021.87,-1),(2021.94,-2),(2022.00,-3),(2022.06,-4),(2022.13,-9),(2022.19,-8),(2022.26,-11),(2022.32,-10),(2022.39,-16),(2022.45,-16),(2022.91,-15.5),(2022.97,-20),(2023.04,-18),(2023.10,-23.5),(2023.17,-19),(2023.23,-17),(2023.30,-14),(2023.36,-12),(2023.43,-13),(2023.49,-15),(2023.56,-12),(2023.62,-10),(2023.68,-12),(2023.75,-14),(2023.81,-12),(2023.88,-16.5),(2023.94,-12),(2024.01,-10),(2024.08,-8),(2024.14,-6),(2024.21,-4),(2024.27,-3),(2024.34,-2),(2024.40,-1),(2024.47,-3),(2024.53,-1),(2024.60,0),(2024.66,-2),(2024.73,-1),(2024.80,-3),(2024.86,-2),(2024.93,0),(2024.99,-3),(2025.06,-2),(2025.12,-5),(2025.19,-4),(2025.25,-8),(2025.32,-6),(2025.38,-4),(2025.45,-2),(2025.51,-1),(2025.58,-2),(2025.64,0),(2025.71,-2),(2025.77,0),(2025.84,-3),(2025.90,-1),(2025.97,-2),(2026.03,-2),(2026.10,-1),(2026.16,-3),(2026.22,-9),(2026.29,-4),(2026.35,-3),(2026.42,-2),(2026.48,-5)]
SPX_CORE = [(1993.05,0),(1993.30,-2),(1993.60,0),(1993.90,-1),(1994.10,-1),(1994.23,-8.5),(1994.43,-5),(1994.62,-3),(1994.75,0),(1994.95,-4),(1995.08,0),(1995.60,0),(1996.10,-1),(1996.50,-2),(1996.90,0),(1997.30,-2),(1997.80,-2),(1998.20,0),(1998.52,-1),(1998.65,-8),(1998.75,-17),(1998.84,-7),(1998.91,0),(1999.17,0),(1999.43,-2),(1999.69,0),(1999.95,-3),(2000.21,-1),(2000.47,0),(2000.66,-2),(2000.79,-5),(2000.92,-9),(2001.05,-6),(2001.18,-15),(2001.31,-12),(2001.44,-14.5),(2001.57,-17),(2001.70,-23),(2001.83,-18),(2001.96,-16.5),(2002.09,-15.5),(2002.22,-16),(2002.35,-18),(2002.48,-21),(2002.61,-24),(2002.74,-29),(2002.87,-26),(2003.00,-25),(2003.13,-28),(2003.19,-29.5),(2003.32,-26),(2003.45,-22),(2003.58,-18),(2003.71,-17),(2003.84,-14),(2003.97,-12),(2004.10,-8),(2004.23,-7),(2004.36,-7.5),(2004.49,-10),(2004.62,-9),(2004.75,-7),(2004.88,-3),(2005.01,-3.5),(2005.14,-2),(2005.40,0),(2005.80,-2),(2006.20,0),(2006.44,-3),(2006.70,0),(2007.20,-1),(2007.60,-2),(2007.80,0),(2007.94,-8),(2008.14,-11),(2008.26,-9),(2008.39,-12),(2008.52,-11),(2008.65,-13),(2008.78,-20),(2008.91,-25),(2009.04,-27),(2009.10,-24),(2009.19,-33),(2009.30,-24),(2009.40,-21),(2009.53,-17),(2009.66,-15),(2009.86,-13),(2010.05,-12),(2010.25,-10),(2010.38,-14),(2010.51,-16),(2010.64,-13),(2010.77,-8),(2010.90,-5),(2011.03,-2),(2011.16,0),(2011.42,-2),(2011.55,-10),(2011.68,-12.5),(2011.81,-10),(2011.94,-7),(2012.06,-2),(2012.19,0),(2012.60,-1),(2013.00,0),(2013.50,-1),(2014.00,0),(2014.50,-1),(2015.00,0),(2015.40,-1),(2015.64,-6),(2015.77,-4),(2015.96,-6),(2016.16,-3),(2016.29,0),(2017.00,0),(2017.50,-1),(2018.10,0),(2018.23,-4),(2018.60,-1),(2018.95,-6),(2019.08,-2),(2019.27,0),(2020.16,0),(2020.21,-13),(2020.25,-28),(2020.31,-17),(2020.44,-12),(2020.57,-7),(2020.70,-4),(2020.83,0),(2021.50,-1),(2022.06,-3),(2022.19,-8),(2022.32,-12),(2022.45,-16),(2022.58,-20),(2022.71,-17),(2022.84,-18),(2022.97,-20),(2023.10,-17),(2023.23,-12),(2023.36,-9),(2023.49,-6),(2023.62,-3),(2023.75,-5),(2023.88,-1),(2024.01,0),(2024.60,-1),(2025.18,-3),(2025.27,-16),(2025.38,-5),(2025.51,-2),(2025.64,0),(2026.00,-1),(2026.20,0),(2026.48,-1)]
SPX_MACRO_NO_TECH = [(1993.05,0),(1993.30,-2),(1993.60,0),(1993.90,-1),(1994.10,-1),(1994.23,-8.5),(1994.43,-5),(1994.62,-3),(1994.75,0),(1994.95,-4),(1995.08,0),(1995.60,0),(1996.10,-1),(1996.50,-2),(1996.90,0),(1997.30,-2),(1997.80,-2),(1998.20,0),(1998.52,-1),(1998.65,-8),(1998.75,-17),(1998.84,-7),(1998.91,0),(1999.17,0),(1999.43,-2),(1999.69,0),(1999.95,-3),(2000.21,-1),(2000.47,0),(2000.66,-2),(2000.79,-5),(2000.92,-9),(2001.05,-7),(2001.18,-16),(2001.31,-13),(2001.44,-15.5),(2001.57,-18),(2001.70,-24),(2001.83,-19),(2001.96,-17.5),(2002.09,-16.5),(2002.22,-17),(2002.35,-19),(2002.48,-22),(2002.61,-25),(2002.74,-30),(2002.87,-27),(2003.00,-26),(2003.13,-29),(2003.19,-30.5),(2003.32,-27),(2003.45,-23),(2003.58,-19.5),(2003.71,-18.5),(2003.84,-16),(2003.97,-14),(2004.10,-10),(2004.23,-10),(2004.36,-11),(2004.49,-12.5),(2004.62,-11.5),(2004.75,-9),(2004.88,-5),(2005.01,-5),(2005.14,-3),(2005.40,0),(2005.80,-2),(2006.20,0),(2006.44,-3),(2006.70,0),(2007.20,-1),(2007.60,-2),(2007.80,0),(2007.94,-7),(2008.14,-10),(2008.26,-8),(2008.39,-11),(2008.52,-10),(2008.65,-12),(2008.78,-19),(2008.91,-24),(2009.04,-26),(2009.10,-23),(2009.19,-27),(2009.30,-22),(2009.40,-19),(2009.53,-13.5),(2009.66,-11),(2009.86,-9),(2010.05,-6.5),(2010.25,-4.5),(2010.38,-3.5),(2010.51,-2.5),(2010.64,-1.5),(2010.77,-0.5),(2010.90,0),(2011.03,0),(2011.16,0),(2011.42,-2),(2011.55,-10),(2011.68,-12.5),(2011.81,-10),(2011.94,-7),(2012.06,-2),(2012.19,0),(2012.60,-1),(2013.00,0),(2013.50,-1),(2014.00,0),(2014.50,-1),(2015.00,0),(2015.40,-1),(2015.64,-6),(2015.77,-4),(2015.96,-6),(2016.16,-3),(2016.29,0),(2017.00,0),(2017.50,-1),(2018.10,0),(2018.23,-4),(2018.60,-1),(2018.95,-6),(2019.08,-2),(2019.27,0),(2020.16,0),(2020.21,-13),(2020.25,-28),(2020.31,-17),(2020.44,-12),(2020.57,-7),(2020.70,-4),(2020.83,0),(2021.50,-1),(2022.06,-3),(2022.19,-8),(2022.32,-12),(2022.45,-16),(2022.58,-20),(2022.71,-17),(2022.84,-18),(2022.97,-20),(2023.10,-17),(2023.23,-12),(2023.36,-9),(2023.49,-6),(2023.62,-3),(2023.75,-5),(2023.88,-1),(2024.01,0),(2024.60,-1),(2025.18,-3),(2025.27,-16),(2025.38,-5),(2025.51,-2),(2025.64,0),(2026.00,-1),(2026.20,0),(2026.48,-1)]
SPX_MACRO = [(1993.05,0),(1993.30,-2),(1993.60,0),(1993.90,-1),(1994.10,-1),(1994.23,-8.5),(1994.43,-5),(1994.62,-3),(1994.75,0),(1994.95,-4),(1995.08,0),(1995.60,0),(1996.10,-1),(1996.50,-2),(1996.90,0),(1997.30,-2),(1997.80,-2),(1998.20,0),(1998.52,-1),(1998.65,-8),(1998.75,-17),(1998.84,-7),(1998.91,0),(1999.17,0),(1999.43,-2),(1999.69,0),(1999.95,-3),(2000.21,-1),(2000.47,0),(2000.66,-2),(2000.79,-5),(2000.92,-9),(2001.05,-8),(2001.18,-17),(2001.31,-14),(2001.44,-16.5),(2001.57,-19),(2001.70,-25),(2001.83,-20),(2001.96,-18.5),(2002.09,-17.5),(2002.22,-18),(2002.35,-20),(2002.48,-23),(2002.61,-26),(2002.74,-31),(2002.87,-28),(2003.00,-27),(2003.13,-30),(2003.19,-31.5),(2003.32,-28),(2003.45,-24),(2003.58,-20.5),(2003.71,-19.5),(2003.84,-17),(2003.97,-15),(2004.10,-11),(2004.23,-11),(2004.36,-12.5),(2004.49,-13.5),(2004.62,-12.5),(2004.75,-10),(2004.88,-6),(2005.01,-5.5),(2005.14,-3),(2005.40,0),(2005.80,-2),(2006.20,0),(2006.44,-3),(2006.70,0),(2007.20,-1),(2007.60,-2),(2007.80,0),(2007.94,-7),(2008.14,-10),(2008.26,-8),(2008.39,-11),(2008.52,-10),(2008.65,-12),(2008.78,-19),(2008.91,-24),(2009.04,-26),(2009.10,-23),(2009.19,-27),(2009.30,-21),(2009.40,-19),(2009.53,-16),(2009.66,-12),(2009.86,-7),(2010.05,-4.5),(2010.25,-2.5),(2010.38,-3),(2010.51,-4),(2010.64,-2),(2010.77,-1),(2010.90,0),(2011.03,0),(2011.16,0),(2011.42,-2),(2011.55,-10),(2011.68,-12.5),(2011.81,-10),(2011.94,-7),(2012.06,-2),(2012.19,0),(2012.60,-1),(2013.00,0),(2013.50,-1),(2014.00,0),(2014.50,-1),(2015.00,0),(2015.40,-1),(2015.64,-6),(2015.77,-4),(2015.96,-6),(2016.16,-3),(2016.29,0),(2017.00,0),(2017.50,-1),(2018.10,0),(2018.23,-4),(2018.60,-1),(2018.95,-6),(2019.08,-2),(2019.27,0),(2020.16,0),(2020.21,-13),(2020.25,-28),(2020.31,-17),(2020.44,-12),(2020.57,-7),(2020.70,-4),(2020.83,0),(2021.50,-1),(2022.06,-3),(2022.19,-8),(2022.32,-12),(2022.45,-16),(2022.58,-20),(2022.71,-17),(2022.84,-18),(2022.97,-20),(2023.10,-17),(2023.23,-12),(2023.36,-9),(2023.49,-6),(2023.62,-3),(2023.75,-5),(2023.88,-1),(2024.01,0),(2024.60,-1),(2025.18,-3),(2025.27,-16),(2025.38,-5),(2025.51,-2),(2025.64,0),(2026.00,-1),(2026.20,0),(2026.48,-1)]
SPX_BUY_HOLD = [(1993.05,0),(1993.30,-2),(1993.60,0),(1993.90,-1),(1994.10,-1),(1994.23,-8),(1994.43,-5),(1994.62,-3),(1994.75,0),(1994.95,-4),(1995.08,0),(1995.60,0),(1996.10,-1),(1996.50,-2),(1996.90,0),(1997.30,-2),(1997.80,-2),(1998.20,0),(1998.52,-1),(1998.65,-9),(1998.69,-19),(1998.84,-8),(1998.91,0),(1999.17,0),(1999.43,-3),(1999.69,-2),(1999.82,-11.5),(1999.95,-3),(2000.21,-2),(2000.47,0),(2000.66,-3),(2000.83,-10),(2000.92,-13),(2000.99,-17),(2001.12,-13),(2001.25,-27),(2001.38,-20),(2001.51,-22),(2001.64,-26),(2001.74,-35.5),(2001.83,-27),(2001.96,-24),(2002.09,-25),(2002.22,-23),(2002.35,-27),(2002.48,-33),(2002.61,-40),(2002.70,-46),(2002.78,-47.5),(2002.87,-38),(2002.96,-42),(2003.06,-37),(2003.19,-45.5),(2003.32,-38),(2003.45,-33),(2003.58,-31),(2003.71,-29),(2003.84,-27),(2003.97,-25),(2004.10,-21),(2004.23,-20),(2004.36,-24),(2004.49,-21),(2004.62,-26),(2004.75,-23),(2004.88,-18),(2005.01,-16),(2005.14,-19),(2005.27,-20),(2005.40,-16),(2005.53,-14),(2005.66,-12.5),(2005.79,-16.5),(2005.92,-11),(2006.05,-10),(2006.18,-8),(2006.31,-6),(2006.44,-12.5),(2006.57,-7),(2006.70,-3),(2006.83,0),(2007.20,-1),(2007.60,-2),(2007.87,-5),(2008.00,-10),(2008.13,-15),(2008.23,-18),(2008.32,-12),(2008.45,-14),(2008.58,-19),(2008.71,-25),(2008.82,-37),(2008.90,-44),(2008.99,-42),(2009.06,-50),(2009.16,-47),(2009.23,-55),(2009.30,-47),(2009.40,-37),(2009.60,-34),(2009.73,-31),(2009.86,-27),(2009.99,-25),(2010.12,-24),(2010.25,-18),(2010.31,-24),(2010.44,-25),(2010.51,-30),(2010.64,-27),(2010.77,-22),(2010.90,-13),(2011.03,-9),(2011.16,-5),(2011.29,-4),(2011.42,-7),(2011.55,-17),(2011.61,-20),(2011.68,-22.5),(2011.81,-18),(2011.94,-14),(2012.06,-7),(2012.19,-4),(2012.32,-2),(2012.45,-6),(2012.58,-3),(2012.71,-1),(2012.91,0),(2013.50,-1),(2014.00,0),(2014.50,-1),(2015.00,0),(2015.40,-1),(2015.64,-10),(2015.77,-4),(2015.96,-5),(2016.09,-9.5),(2016.22,-3),(2016.35,-1),(2016.55,0),(2017.00,0),(2017.50,-1),(2018.10,0),(2018.23,-5),(2018.60,-1),(2018.95,-10),(2019.08,-4),(2019.27,0),(2020.16,0),(2020.21,-15),(2020.23,-33.5),(2020.31,-20),(2020.44,-14),(2020.57,-8),(2020.70,-3),(2020.83,0),(2021.50,-1),(2022.06,-3),(2022.19,-12),(2022.32,-15),(2022.45,-22),(2022.58,-19),(2022.71,-18),(2022.78,-24),(2022.91,-20),(2023.04,-17),(2023.17,-14),(2023.29,-11),(2023.42,-8),(2023.55,-6),(2023.68,-9),(2023.81,-4),(2024.01,0),(2024.60,-1),(2025.18,-4),(2025.27,-18.5),(2025.38,-6),(2025.51,-2),(2025.64,0),(2026.00,-1),(2026.22,-3),(2026.48,-2)]

# biweekly monitor budget is fully hidden beneath the macro budget line in every panel
DAX_BIWEEKLY = DAX_MACRO
EM_BIWEEKLY = EM_MACRO
WORLD_BIWEEKLY = WORLD_MACRO
NDX_BIWEEKLY = NDX_MACRO
SPX_BIWEEKLY = SPX_MACRO

# ---------------- tick labels ----------------
DAX_XTICKS = [2008, 2010, 2012, 2014, 2016, 2018, 2020, 2022, 2024, 2026]
EM_XTICKS = [2004, 2008, 2012, 2016, 2020, 2024]
WORLD_XTICKS = [2010, 2012, 2014, 2016, 2018, 2020, 2022, 2024, 2026]
NDX_XTICKS = [2000, 2004, 2008, 2012, 2016, 2020, 2024]
SPX_XTICKS = [1992, 1996, 2000, 2004, 2008, 2012, 2016, 2020, 2024, 2028]
DAX_YTICKS = [0, -10, -20, -30, -40, -50]
EM_YTICKS = [0, -10, -20, -30, -40, -50, -60]
WORLD_YTICKS = [0, -5, -10, -15, -20, -25, -30, -35]
NDX_YTICKS = [0, -20, -40, -60, -80]
SPX_YTICKS = [0, -10, -20, -30, -40, -50]
EMPTY_TICKS = [0.0, 0.2, 0.4, 0.6, 0.8, 1.0]

# ---------------- layout geometry (pixels in a 2100x1800 canvas) ----------------
W, H = 2100, 1800
COLS = [(80.7, 1024.0), (1118.0, 2061.0)]
ROWS = [(55.7, 556.4), (648.9, 1148.9), (1241.0, 1741.8)]

PANELS = [
    dict(title="DAX", col=0, row=0, xr=[2007.065, 2027.44], yr=[-56.86, 2.68],
         xt=DAX_XTICKS, yt=DAX_YTICKS,
         data=[DAX_BIWEEKLY, DAX_BUY_HOLD, DAX_MACRO, DAX_MACRO_NO_TECH, DAX_CORE, DAX_TREND],
         leg=dict(x=1018, y=550, xa="right")),
    dict(title="MSCI Emerging Markets", col=1, row=0, xr=[2002.15, 2027.59], yr=[-69.74, 3.28],
         xt=EM_XTICKS, yt=EM_YTICKS,
         data=[EM_BIWEEKLY, EM_BUY_HOLD, EM_MACRO, EM_MACRO_NO_TECH, EM_CORE, EM_TREND],
         leg=dict(x=2054.3, y=550, xa="right")),
    dict(title="MSCI World", col=0, row=1, xr=[2008.89, 2027.29], yr=[-35.31, 1.64],
         xt=WORLD_XTICKS, yt=WORLD_YTICKS,
         data=[WORLD_BIWEEKLY, WORLD_BUY_HOLD, WORLD_MACRO, WORLD_MACRO_NO_TECH, WORLD_CORE, WORLD_TREND],
         leg=dict(x=87, y=1142.5, xa="left")),
    dict(title="Nasdaq 100 / Growth Equity", col=1, row=1, xr=[1997.84, 2027.82], yr=[-87.1, 4.05],
         xt=NDX_XTICKS, yt=NDX_YTICKS,
         data=[NDX_BIWEEKLY, NDX_BUY_HOLD, NDX_MACRO, NDX_MACRO_NO_TECH, NDX_CORE, NDX_TREND],
         leg=dict(x=2054.3, y=1142.5, xa="right")),
    dict(title="S&P 500 / US Large Cap", col=0, row=2, xr=[1991.40, 2028.13], yr=[-57.96, 2.74],
         xt=SPX_XTICKS, yt=SPX_YTICKS,
         data=[SPX_BIWEEKLY, SPX_BUY_HOLD, SPX_MACRO, SPX_MACRO_NO_TECH, SPX_CORE, SPX_TREND],
         leg=dict(x=1018, y=1735.7, xa="right")),
]

FONT = "DejaVu Sans"
fig = go.Figure()
layout = dict(width=W, height=H, autosize=False,
              margin=dict(l=0, r=0, t=0, b=0, pad=0, autoexpand=False),
              paper_bgcolor="white", plot_bgcolor="white", showlegend=True,
              font=dict(family=FONT, color="black", size=20.8), annotations=[])


def fmt(v):
    return ("\u2212" + str(abs(v))) if v < 0 else str(v)


def axis_common(domain, rng, tickvals, ticktext, anchor):
    return dict(domain=domain, range=rng, tickmode="array", tickvals=tickvals, ticktext=ticktext,
                showgrid=False, zeroline=False, showline=True, linecolor="black", linewidth=1.6,
                mirror=True, ticks="outside", ticklen=7, tickwidth=1.6, tickcolor="black",
                tickfont=dict(family=FONT, size=20.8, color="black"), anchor=anchor,
                automargin=False, fixedrange=True)


for i, p in enumerate(PANELS):
    n = i + 1
    xa = "x" if n == 1 else f"x{n}"
    ya = "y" if n == 1 else f"y{n}"
    legname = "legend" if n == 1 else f"legend{n}"
    c0, c1 = COLS[p["col"]]
    r0, r1 = ROWS[p["row"]]
    xdom = [c0 / W, c1 / W]
    ydom = [1 - r1 / H, 1 - r0 / H]
    layout["xaxis" if n == 1 else f"xaxis{n}"] = axis_common(
        xdom, p["xr"], p["xt"], [str(t) for t in p["xt"]], ya)
    layout["yaxis" if n == 1 else f"yaxis{n}"] = axis_common(
        ydom, p["yr"], p["yt"], [fmt(t) for t in p["yt"]], xa)
    for name, color, pairs in zip(SERIES, COLORS, p["data"]):
        fig.add_trace(go.Scatter(x=[q[0] for q in pairs], y=[q[1] for q in pairs], mode="lines",
                                 name=name, line=dict(color=color, width=2.2),
                                 xaxis=xa, yaxis=ya, legend=legname, hoverinfo="skip"))
    lg = p["leg"]
    layout[legname] = dict(x=lg["x"] / W, y=1 - lg["y"] / H, xanchor=lg["xa"], yanchor="bottom",
                           xref="paper", yref="paper",
                           bgcolor="rgba(255,255,255,0.8)", bordercolor="#cccccc", borderwidth=1,
                           font=dict(family=FONT, size=12.5, color="black"),
                           itemwidth=30, tracegroupgap=0)
    layout["annotations"].append(dict(text=p["title"], xref="paper", yref="paper",
                                      x=(c0 + c1) / 2 / W, y=1 - (r0 - 20) / H,
                                      xanchor="center", yanchor="middle", showarrow=False,
                                      font=dict(family=FONT, size=25, color="black")))

# empty sixth panel
c0, c1 = COLS[1]
r0, r1 = ROWS[2]
layout["xaxis6"] = axis_common([c0 / W, c1 / W], [0, 1], EMPTY_TICKS, [f"{t:.1f}" for t in EMPTY_TICKS], "y6")
layout["yaxis6"] = axis_common([1 - r1 / H, 1 - r0 / H], [0, 1], EMPTY_TICKS, [f"{t:.1f}" for t in EMPTY_TICKS], "x6")
fig.add_trace(go.Scatter(x=[None], y=[None], xaxis="x6", yaxis="y6", showlegend=False, hoverinfo="skip"))

fig.update_layout(**layout)
fig.write_html("out.html",
               post_script="document.body.style.margin='0px';document.body.style.padding='0px';"
                           "document.body.style.overflow='hidden';")
